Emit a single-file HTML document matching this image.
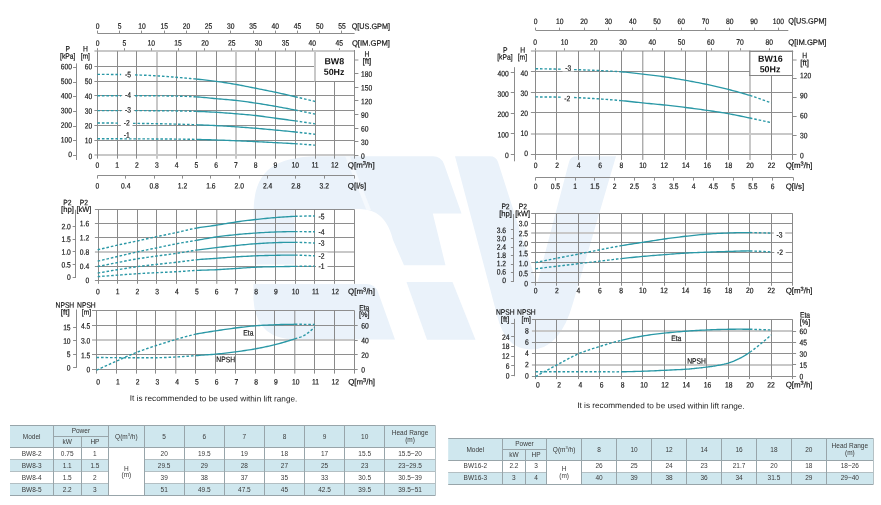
<!DOCTYPE html>
<html><head><meta charset="utf-8"><title>BW8 / BW16 performance curves</title>
<style>
html,body{margin:0;padding:0;background:#fff;}
body{width:881px;height:505px;overflow:hidden;font-family:"Liberation Sans", sans-serif;}
svg{display:block;font-family:"Liberation Sans", sans-serif;}
text{font-family:"Liberation Sans", sans-serif;}
</style></head><body>
<svg width="881" height="505" viewBox="0 0 881 505">
<defs><filter id="gs" x="0" y="0" width="881" height="505" filterUnits="userSpaceOnUse" color-interpolation-filters="sRGB"><feColorMatrix type="saturate" values="0"/></filter></defs>
<rect width="881" height="505" fill="#fff"/>
<g fill="#eaf2fa">
<path d="M318,156.2 L433,156.2 Q441,156.2 444,164 L461.5,213.5 L432.8,213.5 L445.5,265.3 L404,265.3 L393,240 Q388,220 376,213 Q370,209.5 360,209 L294.6,209 L294.6,264.6 L254.6,264.6 L253.6,212 C254,172 272,157 318,156.2 Z"/>
<path d="M253.5,284 L366,284 Q375,284 378,292 L395,339.6 L296,339.6 Q256,339.6 253.5,300 Z"/>
<path d="M406.5,282 L452.5,282 L475.5,339.8 L427,339.8 Z"/>
<path d="M455,156.2 L490,156.2 Q496,156.2 498,162 L537,284 L569,162 Q570.5,156.2 576,156.2 L616,156.2 L573,303 Q560,349.5 531,349.5 Q505,349.5 497,315 Z"/>
</g>
<path d="M345.2,156.2 L349.8,156.2 L371,210 L366.4,210 Z" fill="#f5f9fd"/>
<line x1="94.4" y1="155" x2="354.6" y2="155" stroke="#c8c8c8" stroke-width="2"/>
<line x1="94.4" y1="51" x2="354.6" y2="51" stroke="#c8c8c8" stroke-width="2"/>
<line x1="157" y1="51.15" x2="157" y2="158.65" stroke="#c8c8c8" stroke-width="2"/>
<line x1="236" y1="51.15" x2="236" y2="158.65" stroke="#c8c8c8" stroke-width="2"/>
<line x1="94.4" y1="140.5" x2="354.6" y2="140.5" stroke="#8e8e8e" stroke-width="1"/>
<line x1="94.4" y1="125.5" x2="354.6" y2="125.5" stroke="#8e8e8e" stroke-width="1"/>
<line x1="94.4" y1="110.5" x2="354.6" y2="110.5" stroke="#8e8e8e" stroke-width="1"/>
<line x1="94.4" y1="95.5" x2="354.6" y2="95.5" stroke="#8e8e8e" stroke-width="1"/>
<line x1="94.4" y1="81.5" x2="354.6" y2="81.5" stroke="#8e8e8e" stroke-width="1"/>
<line x1="94.4" y1="66.5" x2="354.6" y2="66.5" stroke="#8e8e8e" stroke-width="1"/>
<line x1="97.5" y1="51.15" x2="97.5" y2="158.65" stroke="#8a8a8a" stroke-width="1"/>
<line x1="117.5" y1="51.15" x2="117.5" y2="158.65" stroke="#8a8a8a" stroke-width="1"/>
<line x1="136.5" y1="51.15" x2="136.5" y2="158.65" stroke="#8a8a8a" stroke-width="1"/>
<line x1="176.5" y1="51.15" x2="176.5" y2="158.65" stroke="#8a8a8a" stroke-width="1"/>
<line x1="196.5" y1="51.15" x2="196.5" y2="158.65" stroke="#8a8a8a" stroke-width="1"/>
<line x1="216.5" y1="51.15" x2="216.5" y2="158.65" stroke="#8a8a8a" stroke-width="1"/>
<line x1="255.5" y1="51.15" x2="255.5" y2="158.65" stroke="#8a8a8a" stroke-width="1"/>
<line x1="275.5" y1="51.15" x2="275.5" y2="158.65" stroke="#8a8a8a" stroke-width="1"/>
<line x1="295.5" y1="51.15" x2="295.5" y2="158.65" stroke="#8a8a8a" stroke-width="1"/>
<line x1="315.5" y1="51.15" x2="315.5" y2="158.65" stroke="#8a8a8a" stroke-width="1"/>
<line x1="334.5" y1="51.15" x2="334.5" y2="158.65" stroke="#8a8a8a" stroke-width="1"/>
<line x1="354.5" y1="51.15" x2="354.5" y2="158.65" stroke="#8a8a8a" stroke-width="1"/>
<line x1="97.5" y1="48.15" x2="97.5" y2="50.65" stroke="#8c8c8c" stroke-width="1"/>
<line x1="124.5" y1="48.15" x2="124.5" y2="50.65" stroke="#8c8c8c" stroke-width="1"/>
<line x1="151.5" y1="48.15" x2="151.5" y2="50.65" stroke="#8c8c8c" stroke-width="1"/>
<line x1="178.5" y1="48.15" x2="178.5" y2="50.65" stroke="#8c8c8c" stroke-width="1"/>
<line x1="204.5" y1="48.15" x2="204.5" y2="50.65" stroke="#8c8c8c" stroke-width="1"/>
<line x1="231.5" y1="48.15" x2="231.5" y2="50.65" stroke="#8c8c8c" stroke-width="1"/>
<line x1="258.5" y1="48.15" x2="258.5" y2="50.65" stroke="#8c8c8c" stroke-width="1"/>
<line x1="285.5" y1="48.15" x2="285.5" y2="50.65" stroke="#8c8c8c" stroke-width="1"/>
<line x1="312.5" y1="48.15" x2="312.5" y2="50.65" stroke="#8c8c8c" stroke-width="1"/>
<line x1="339.5" y1="48.15" x2="339.5" y2="50.65" stroke="#8c8c8c" stroke-width="1"/>
<line x1="97.4" y1="33.5" x2="354.6" y2="33.5" stroke="#8c8c8c" stroke-width="1"/>
<line x1="97.5" y1="30.6" x2="97.5" y2="33.2" stroke="#8c8c8c" stroke-width="1"/>
<line x1="119.5" y1="30.6" x2="119.5" y2="33.2" stroke="#8c8c8c" stroke-width="1"/>
<line x1="141.5" y1="30.6" x2="141.5" y2="33.2" stroke="#8c8c8c" stroke-width="1"/>
<line x1="164.5" y1="30.6" x2="164.5" y2="33.2" stroke="#8c8c8c" stroke-width="1"/>
<line x1="186.5" y1="30.6" x2="186.5" y2="33.2" stroke="#8c8c8c" stroke-width="1"/>
<line x1="208.5" y1="30.6" x2="208.5" y2="33.2" stroke="#8c8c8c" stroke-width="1"/>
<line x1="230.5" y1="30.6" x2="230.5" y2="33.2" stroke="#8c8c8c" stroke-width="1"/>
<line x1="253.5" y1="30.6" x2="253.5" y2="33.2" stroke="#8c8c8c" stroke-width="1"/>
<line x1="275.5" y1="30.6" x2="275.5" y2="33.2" stroke="#8c8c8c" stroke-width="1"/>
<line x1="297.5" y1="30.6" x2="297.5" y2="33.2" stroke="#8c8c8c" stroke-width="1"/>
<line x1="319.5" y1="30.6" x2="319.5" y2="33.2" stroke="#8c8c8c" stroke-width="1"/>
<line x1="341.5" y1="30.6" x2="341.5" y2="33.2" stroke="#8c8c8c" stroke-width="1"/>
<line x1="97.4" y1="175.5" x2="354.6" y2="175.5" stroke="#8c8c8c" stroke-width="1"/>
<line x1="97.5" y1="175.6" x2="97.5" y2="178.6" stroke="#8c8c8c" stroke-width="1"/>
<line x1="125.5" y1="175.6" x2="125.5" y2="178.6" stroke="#8c8c8c" stroke-width="1"/>
<line x1="154.5" y1="175.6" x2="154.5" y2="178.6" stroke="#8c8c8c" stroke-width="1"/>
<line x1="182.5" y1="175.6" x2="182.5" y2="178.6" stroke="#8c8c8c" stroke-width="1"/>
<line x1="210.5" y1="175.6" x2="210.5" y2="178.6" stroke="#8c8c8c" stroke-width="1"/>
<line x1="239.5" y1="175.6" x2="239.5" y2="178.6" stroke="#8c8c8c" stroke-width="1"/>
<line x1="267.5" y1="175.6" x2="267.5" y2="178.6" stroke="#8c8c8c" stroke-width="1"/>
<line x1="295.5" y1="175.6" x2="295.5" y2="178.6" stroke="#8c8c8c" stroke-width="1"/>
<line x1="324.5" y1="175.6" x2="324.5" y2="178.6" stroke="#8c8c8c" stroke-width="1"/>
<line x1="354.5" y1="175.6" x2="354.5" y2="178.6" stroke="#8c8c8c" stroke-width="1"/>
<line x1="76.5" y1="63.4" x2="76.5" y2="160" stroke="#8c8c8c" stroke-width="1"/>
<line x1="73.05" y1="155.5" x2="76.55" y2="155.5" stroke="#8c8c8c" stroke-width="1"/>
<line x1="73.05" y1="140.5" x2="76.55" y2="140.5" stroke="#8c8c8c" stroke-width="1"/>
<line x1="73.05" y1="126.5" x2="76.55" y2="126.5" stroke="#8c8c8c" stroke-width="1"/>
<line x1="73.05" y1="111.5" x2="76.55" y2="111.5" stroke="#8c8c8c" stroke-width="1"/>
<line x1="73.05" y1="96.5" x2="76.55" y2="96.5" stroke="#8c8c8c" stroke-width="1"/>
<line x1="73.05" y1="82.5" x2="76.55" y2="82.5" stroke="#8c8c8c" stroke-width="1"/>
<line x1="73.05" y1="67.5" x2="76.55" y2="67.5" stroke="#8c8c8c" stroke-width="1"/>
<line x1="354.6" y1="155.5" x2="358.4" y2="155.5" stroke="#8c8c8c" stroke-width="1"/>
<line x1="354.6" y1="141.5" x2="358.4" y2="141.5" stroke="#8c8c8c" stroke-width="1"/>
<line x1="354.6" y1="128.5" x2="358.4" y2="128.5" stroke="#8c8c8c" stroke-width="1"/>
<line x1="354.6" y1="114.5" x2="358.4" y2="114.5" stroke="#8c8c8c" stroke-width="1"/>
<line x1="354.6" y1="100.5" x2="358.4" y2="100.5" stroke="#8c8c8c" stroke-width="1"/>
<line x1="354.6" y1="87.5" x2="358.4" y2="87.5" stroke="#8c8c8c" stroke-width="1"/>
<line x1="354.6" y1="73.5" x2="358.4" y2="73.5" stroke="#8c8c8c" stroke-width="1"/>
<line x1="354.6" y1="60" x2="358.4" y2="60" stroke="#c8c8c8" stroke-width="2"/>
<rect x="122.2" y="70.9" width="11.6" height="7.2" fill="#fff"/>
<rect x="122.2" y="91.2" width="11.6" height="7.2" fill="#fff"/>
<rect x="122.2" y="106" width="11.6" height="7.2" fill="#fff"/>
<rect x="120.9" y="119" width="11.6" height="7.2" fill="#fff"/>
<path d="M97.4,74.35 L98.58,74.36 L100.09,74.36 L101.88,74.37 L103.89,74.38 L106.06,74.4 L108.32,74.41 L110.63,74.43 L112.91,74.45 L115.12,74.47 L117.18,74.5 L119.16,74.53 L121.14,74.56" fill="none" stroke="#2a98a6" stroke-width="1.4" stroke-dasharray="2.6 1.9" stroke-linejoin="round"/>
<path d="M134.99,74.88 L136.97,74.94 L138.95,75.01 L140.93,75.08 L142.9,75.16 L144.88,75.24 L146.86,75.32 L148.84,75.41 L150.82,75.51 L152.8,75.61 L154.78,75.72 L156.75,75.83 L158.73,75.95 L160.71,76.08 L162.69,76.22 L164.67,76.37 L166.65,76.52 L168.62,76.67 L170.6,76.83 L172.58,76.99 L174.56,77.15 L176.54,77.31 L178.52,77.48 L180.5,77.64 L182.47,77.81 L184.45,77.98 L186.43,78.16 L188.41,78.33 L190.39,78.52 L192.37,78.7 L194.34,78.89 L196.32,79.09" fill="none" stroke="#2a98a6" stroke-width="1.4" stroke-dasharray="2.6 1.9" stroke-linejoin="round"/>
<path d="M196.32,79.09 L198.3,79.29 L200.28,79.49 L202.26,79.7 L204.24,79.9 L206.22,80.12 L208.19,80.34 L210.17,80.57 L212.15,80.8 L214.13,81.05 L216.11,81.31 L218.09,81.58 L220.06,81.87 L222.04,82.16 L224.02,82.46 L226,82.77 L227.98,83.08 L229.96,83.41 L231.94,83.74 L233.91,84.08 L235.89,84.42 L237.87,84.78 L239.85,85.15 L241.83,85.52 L243.81,85.91 L245.78,86.3 L247.76,86.69 L249.74,87.09 L251.72,87.49 L253.7,87.88 L255.68,88.28 L257.66,88.67 L259.63,89.06 L261.61,89.45 L263.59,89.85 L265.57,90.24 L267.55,90.64 L269.53,91.04 L271.5,91.45 L273.48,91.86 L275.46,92.28 L277.44,92.7 L279.42,93.13 L281.4,93.57 L283.38,94.01 L285.35,94.45 L287.33,94.9 L289.31,95.35 L291.29,95.81 L293.27,96.26 L295.25,96.72" fill="none" stroke="#2a98a6" stroke-width="1.35" stroke-linejoin="round"/>
<path d="M295.25,96.72 L297.31,97.21 L299.52,97.73 L301.8,98.27 L304.11,98.83 L306.38,99.37 L308.54,99.89 L310.55,100.38 L312.34,100.81 L313.85,101.18 L315.03,101.46" fill="none" stroke="#2a98a6" stroke-width="1.4" stroke-dasharray="2.6 1.9" stroke-linejoin="round"/>
<path d="M97.4,95.69 L98.58,95.69 L100.09,95.69 L101.88,95.69 L103.89,95.69 L106.06,95.69 L108.32,95.69 L110.63,95.69 L112.91,95.69 L115.12,95.69 L117.18,95.69 L119.16,95.68 L121.14,95.68" fill="none" stroke="#2a98a6" stroke-width="1.4" stroke-dasharray="2.6 1.9" stroke-linejoin="round"/>
<path d="M134.99,95.68 L136.97,95.69 L138.95,95.69 L140.93,95.7 L142.9,95.71 L144.88,95.73 L146.86,95.74 L148.84,95.76 L150.82,95.77 L152.8,95.79 L154.78,95.81 L156.75,95.83 L158.73,95.86 L160.71,95.88 L162.69,95.9 L164.67,95.92 L166.65,95.94 L168.62,95.97 L170.6,96 L172.58,96.04 L174.56,96.08 L176.54,96.13 L178.52,96.18 L180.5,96.23 L182.47,96.29 L184.45,96.34 L186.43,96.41 L188.41,96.48 L190.39,96.56 L192.37,96.65 L194.34,96.75 L196.32,96.87" fill="none" stroke="#2a98a6" stroke-width="1.4" stroke-dasharray="2.6 1.9" stroke-linejoin="round"/>
<path d="M196.32,96.87 L198.3,97.01 L200.28,97.16 L202.26,97.33 L204.24,97.51 L206.22,97.7 L208.19,97.89 L210.17,98.08 L212.15,98.28 L214.13,98.47 L216.11,98.65 L218.09,98.82 L220.06,98.99 L222.04,99.15 L224.02,99.32 L226,99.48 L227.98,99.65 L229.96,99.83 L231.94,100.01 L233.91,100.21 L235.89,100.43 L237.87,100.66 L239.85,100.89 L241.83,101.14 L243.81,101.4 L245.78,101.67 L247.76,101.94 L249.74,102.22 L251.72,102.51 L253.7,102.8 L255.68,103.09 L257.66,103.39 L259.63,103.7 L261.61,104.01 L263.59,104.33 L265.57,104.66 L267.55,104.99 L269.53,105.32 L271.5,105.66 L273.48,106.01 L275.46,106.35 L277.44,106.7 L279.42,107.06 L281.4,107.42 L283.38,107.79 L285.35,108.16 L287.33,108.53 L289.31,108.91 L291.29,109.29 L293.27,109.67 L295.25,110.06" fill="none" stroke="#2a98a6" stroke-width="1.35" stroke-linejoin="round"/>
<path d="M295.25,110.06 L297.31,110.46 L299.52,110.9 L301.8,111.36 L304.11,111.83 L306.38,112.29 L308.54,112.73 L310.55,113.14 L312.34,113.51 L313.85,113.82 L315.03,114.06" fill="none" stroke="#2a98a6" stroke-width="1.4" stroke-dasharray="2.6 1.9" stroke-linejoin="round"/>
<path d="M97.4,110.65 L98.58,110.65 L100.09,110.65 L101.88,110.65 L103.89,110.65 L106.06,110.65 L108.32,110.65 L110.63,110.65 L112.91,110.65 L115.12,110.65 L117.18,110.65 L119.16,110.65 L121.14,110.65" fill="none" stroke="#2a98a6" stroke-width="1.4" stroke-dasharray="2.6 1.9" stroke-linejoin="round"/>
<path d="M134.99,110.65 L136.97,110.65 L138.95,110.65 L140.93,110.66 L142.9,110.66 L144.88,110.67 L146.86,110.67 L148.84,110.68 L150.82,110.69 L152.8,110.7 L154.78,110.71 L156.75,110.72 L158.73,110.74 L160.71,110.76 L162.69,110.77 L164.67,110.79 L166.65,110.81 L168.62,110.84 L170.6,110.86 L172.58,110.89 L174.56,110.92 L176.54,110.95 L178.52,110.98 L180.5,111.01 L182.47,111.05 L184.45,111.09 L186.43,111.13 L188.41,111.17 L190.39,111.22 L192.37,111.27 L194.34,111.33 L196.32,111.39" fill="none" stroke="#2a98a6" stroke-width="1.4" stroke-dasharray="2.6 1.9" stroke-linejoin="round"/>
<path d="M196.32,111.39 L198.3,111.46 L200.28,111.53 L202.26,111.61 L204.24,111.69 L206.22,111.77 L208.19,111.86 L210.17,111.96 L212.15,112.06 L214.13,112.17 L216.11,112.28 L218.09,112.4 L220.06,112.53 L222.04,112.67 L224.02,112.82 L226,112.97 L227.98,113.12 L229.96,113.28 L231.94,113.44 L233.91,113.6 L235.89,113.76 L237.87,113.92 L239.85,114.08 L241.83,114.25 L243.81,114.41 L245.78,114.58 L247.76,114.75 L249.74,114.93 L251.72,115.12 L253.7,115.33 L255.68,115.54 L257.66,115.77 L259.63,116.02 L261.61,116.28 L263.59,116.54 L265.57,116.82 L267.55,117.1 L269.53,117.38 L271.5,117.66 L273.48,117.94 L275.46,118.21 L277.44,118.47 L279.42,118.74 L281.4,119 L283.38,119.26 L285.35,119.52 L287.33,119.79 L289.31,120.05 L291.29,120.32 L293.27,120.6 L295.25,120.87" fill="none" stroke="#2a98a6" stroke-width="1.35" stroke-linejoin="round"/>
<path d="M295.25,120.87 L297.31,121.17 L299.52,121.5 L301.8,121.84 L304.11,122.18 L306.38,122.52 L308.54,122.85 L310.55,123.16 L312.34,123.43 L313.85,123.66 L315.03,123.84" fill="none" stroke="#2a98a6" stroke-width="1.4" stroke-dasharray="2.6 1.9" stroke-linejoin="round"/>
<path d="M97.4,122.95 L98.58,122.96 L100.09,122.97 L101.88,122.98 L103.89,122.99 L106.06,123 L108.32,123.02 L110.63,123.04 L112.91,123.06 L115.12,123.08 L117.18,123.1 L119.16,123.12" fill="none" stroke="#2a98a6" stroke-width="1.4" stroke-dasharray="2.6 1.9" stroke-linejoin="round"/>
<path d="M133.01,123.33 L134.99,123.36 L136.97,123.39 L138.95,123.42 L140.93,123.45 L142.9,123.48 L144.88,123.5 L146.86,123.53 L148.84,123.56 L150.82,123.59 L152.8,123.62 L154.78,123.65 L156.75,123.69 L158.73,123.73 L160.71,123.77 L162.69,123.81 L164.67,123.85 L166.65,123.89 L168.62,123.94 L170.6,123.99 L172.58,124.03 L174.56,124.08 L176.54,124.13 L178.52,124.19 L180.5,124.24 L182.47,124.29 L184.45,124.35 L186.43,124.4 L188.41,124.46 L190.39,124.52 L192.37,124.59 L194.34,124.66 L196.32,124.73" fill="none" stroke="#2a98a6" stroke-width="1.4" stroke-dasharray="2.6 1.9" stroke-linejoin="round"/>
<path d="M196.32,124.73 L198.3,124.8 L200.28,124.88 L202.26,124.96 L204.24,125.05 L206.22,125.13 L208.19,125.22 L210.17,125.32 L212.15,125.41 L214.13,125.51 L216.11,125.62 L218.09,125.72 L220.06,125.83 L222.04,125.94 L224.02,126.05 L226,126.17 L227.98,126.29 L229.96,126.41 L231.94,126.54 L233.91,126.67 L235.89,126.8 L237.87,126.94 L239.85,127.07 L241.83,127.21 L243.81,127.36 L245.78,127.51 L247.76,127.65 L249.74,127.81 L251.72,127.96 L253.7,128.12 L255.68,128.28 L257.66,128.45 L259.63,128.62 L261.61,128.79 L263.59,128.97 L265.57,129.14 L267.55,129.32 L269.53,129.51 L271.5,129.69 L273.48,129.88 L275.46,130.06 L277.44,130.25 L279.42,130.43 L281.4,130.62 L283.38,130.81 L285.35,131 L287.33,131.19 L289.31,131.38 L291.29,131.58 L293.27,131.78 L295.25,131.99" fill="none" stroke="#2a98a6" stroke-width="1.35" stroke-linejoin="round"/>
<path d="M295.25,131.99 L297.31,132.21 L299.52,132.45 L301.8,132.7 L304.11,132.96 L306.38,133.22 L308.54,133.47 L310.55,133.7 L312.34,133.9 L313.85,134.08 L315.03,134.21" fill="none" stroke="#2a98a6" stroke-width="1.4" stroke-dasharray="2.6 1.9" stroke-linejoin="round"/>
<path d="M97.4,138.8 L98.58,138.8 L100.09,138.8 L101.88,138.8 L103.89,138.8 L106.06,138.8 L108.32,138.8 L110.63,138.8 L112.91,138.8 L115.12,138.8 L117.18,138.8 L119.16,138.81 L121.14,138.81 L123.12,138.82 L125.1,138.83 L127.08,138.84 L129.06,138.84 L131.03,138.85 L133.01,138.86 L134.99,138.87 L136.97,138.88 L138.95,138.88 L140.93,138.89 L142.9,138.9 L144.88,138.9 L146.86,138.91 L148.84,138.92 L150.82,138.92 L152.8,138.93 L154.78,138.94 L156.75,138.95 L158.73,138.96 L160.71,138.97 L162.69,138.99 L164.67,139 L166.65,139.01 L168.62,139.03 L170.6,139.04 L172.58,139.06 L174.56,139.08 L176.54,139.1 L178.52,139.12 L180.5,139.14 L182.47,139.17 L184.45,139.19 L186.43,139.22 L188.41,139.25 L190.39,139.28 L192.37,139.32 L194.34,139.35 L196.32,139.4" fill="none" stroke="#2a98a6" stroke-width="1.4" stroke-dasharray="2.6 1.9" stroke-linejoin="round"/>
<path d="M196.32,139.4 L198.3,139.44 L200.28,139.49 L202.26,139.55 L204.24,139.6 L206.22,139.66 L208.19,139.73 L210.17,139.79 L212.15,139.86 L214.13,139.92 L216.11,139.99 L218.09,140.06 L220.06,140.12 L222.04,140.2 L224.02,140.27 L226,140.34 L227.98,140.42 L229.96,140.49 L231.94,140.57 L233.91,140.65 L235.89,140.73 L237.87,140.81 L239.85,140.9 L241.83,140.98 L243.81,141.07 L245.78,141.16 L247.76,141.24 L249.74,141.34 L251.72,141.43 L253.7,141.52 L255.68,141.62 L257.66,141.72 L259.63,141.82 L261.61,141.92 L263.59,142.02 L265.57,142.13 L267.55,142.23 L269.53,142.34 L271.5,142.45 L273.48,142.55 L275.46,142.66 L277.44,142.76 L279.42,142.86 L281.4,142.95 L283.38,143.05 L285.35,143.15 L287.33,143.25 L289.31,143.35 L291.29,143.46 L293.27,143.57 L295.25,143.69" fill="none" stroke="#2a98a6" stroke-width="1.35" stroke-linejoin="round"/>
<path d="M295.25,143.69 L297.31,143.83 L299.52,143.98 L301.8,144.15 L304.11,144.32 L306.38,144.5 L308.54,144.67 L310.55,144.82 L312.34,144.97 L313.85,145.08 L315.03,145.17" fill="none" stroke="#2a98a6" stroke-width="1.4" stroke-dasharray="2.6 1.9" stroke-linejoin="round"/>
<rect x="315" y="51" width="39.5" height="30.5" fill="#fff"/>
<line x1="315" y1="50" x2="315" y2="81.5" stroke="#c8c8c8" stroke-width="2"/>
<line x1="315" y1="51" x2="355" y2="51" stroke="#c8c8c8" stroke-width="2"/>
<line x1="315" y1="81.5" x2="355" y2="81.5" stroke="#8a8a8a" stroke-width="1"/>
<line x1="354.5" y1="50" x2="354.5" y2="82" stroke="#8a8a8a" stroke-width="1"/>
<line x1="94.9" y1="252" x2="354.3" y2="252" stroke="#c8c8c8" stroke-width="2"/>
<line x1="94.9" y1="280.5" x2="354.3" y2="280.5" stroke="#8e8e8e" stroke-width="1"/>
<line x1="94.9" y1="266.5" x2="354.3" y2="266.5" stroke="#8e8e8e" stroke-width="1"/>
<line x1="94.9" y1="237.5" x2="354.3" y2="237.5" stroke="#8e8e8e" stroke-width="1"/>
<line x1="94.9" y1="223.5" x2="354.3" y2="223.5" stroke="#8e8e8e" stroke-width="1"/>
<line x1="94.9" y1="209.5" x2="354.3" y2="209.5" stroke="#8e8e8e" stroke-width="1"/>
<line x1="98.5" y1="209.4" x2="98.5" y2="283.8" stroke="#8a8a8a" stroke-width="1"/>
<line x1="117.5" y1="209.4" x2="117.5" y2="283.8" stroke="#8a8a8a" stroke-width="1"/>
<line x1="137.5" y1="209.4" x2="137.5" y2="283.8" stroke="#8a8a8a" stroke-width="1"/>
<line x1="156.5" y1="209.4" x2="156.5" y2="283.8" stroke="#8a8a8a" stroke-width="1"/>
<line x1="176.5" y1="209.4" x2="176.5" y2="283.8" stroke="#8a8a8a" stroke-width="1"/>
<line x1="196.5" y1="209.4" x2="196.5" y2="283.8" stroke="#8a8a8a" stroke-width="1"/>
<line x1="216.8" y1="209.4" x2="216.8" y2="283.8" stroke="#8a8a8a" stroke-width="1"/>
<line x1="235.5" y1="209.4" x2="235.5" y2="283.8" stroke="#8a8a8a" stroke-width="1"/>
<line x1="255.5" y1="209.4" x2="255.5" y2="283.8" stroke="#8a8a8a" stroke-width="1"/>
<line x1="275.5" y1="209.4" x2="275.5" y2="283.8" stroke="#8a8a8a" stroke-width="1"/>
<line x1="295.5" y1="209.4" x2="295.5" y2="283.8" stroke="#8a8a8a" stroke-width="1"/>
<line x1="314.5" y1="209.4" x2="314.5" y2="283.8" stroke="#8a8a8a" stroke-width="1"/>
<line x1="334.5" y1="209.4" x2="334.5" y2="283.8" stroke="#8a8a8a" stroke-width="1"/>
<line x1="354.5" y1="209.4" x2="354.5" y2="283.8" stroke="#8a8a8a" stroke-width="1"/>
<line x1="75.5" y1="209.8" x2="75.5" y2="278" stroke="#8c8c8c" stroke-width="1"/>
<line x1="72.65" y1="277.5" x2="75.85" y2="277.5" stroke="#8c8c8c" stroke-width="1"/>
<line x1="72.65" y1="264.5" x2="75.85" y2="264.5" stroke="#8c8c8c" stroke-width="1"/>
<line x1="72.65" y1="251.5" x2="75.85" y2="251.5" stroke="#8c8c8c" stroke-width="1"/>
<line x1="72.65" y1="239.5" x2="75.85" y2="239.5" stroke="#8c8c8c" stroke-width="1"/>
<line x1="72.65" y1="226.5" x2="75.85" y2="226.5" stroke="#8c8c8c" stroke-width="1"/>
<path d="M97.66,249.78 L98.83,249.51 L100.34,249.15 L102.13,248.72 L104.13,248.24 L106.3,247.73 L108.56,247.2 L110.86,246.66 L113.14,246.13 L115.34,245.62 L117.4,245.16 L119.37,244.72 L121.35,244.3 L123.32,243.88 L125.3,243.47 L127.27,243.06 L129.24,242.65 L131.22,242.24 L133.19,241.83 L135.17,241.41 L137.14,240.99 L139.11,240.56 L141.09,240.12 L143.06,239.68 L145.04,239.24 L147.01,238.8 L148.98,238.35 L150.96,237.91 L152.93,237.47 L154.91,237.04 L156.88,236.61 L158.85,236.19 L160.83,235.78 L162.8,235.37 L164.78,234.97 L166.75,234.57 L168.72,234.17 L170.7,233.76 L172.67,233.36 L174.65,232.94 L176.62,232.52 L178.59,232.08 L180.57,231.63 L182.54,231.16 L184.52,230.69 L186.49,230.22 L188.46,229.75 L190.44,229.3 L192.41,228.86 L194.39,228.45 L196.36,228.07" fill="none" stroke="#2a98a6" stroke-width="1.4" stroke-dasharray="2.6 1.9" stroke-linejoin="round"/>
<path d="M196.36,228.07 L198.33,227.72 L200.31,227.4 L202.28,227.11 L204.26,226.83 L206.23,226.57 L208.2,226.31 L210.18,226.05 L212.15,225.79 L214.13,225.51 L216.1,225.22 L218.07,224.91 L220.05,224.59 L222.02,224.26 L224,223.93 L225.97,223.6 L227.94,223.26 L229.92,222.94 L231.89,222.62 L233.87,222.31 L235.84,222.02 L237.81,221.74 L239.79,221.46 L241.76,221.2 L243.74,220.94 L245.71,220.69 L247.68,220.45 L249.66,220.21 L251.63,219.98 L253.61,219.75 L255.58,219.52 L257.55,219.3 L259.53,219.09 L261.5,218.87 L263.48,218.67 L265.45,218.47 L267.42,218.27 L269.4,218.08 L271.37,217.9 L273.35,217.73 L275.32,217.57 L277.29,217.41 L279.27,217.26 L281.24,217.11 L283.22,216.97 L285.19,216.84 L287.16,216.72 L289.14,216.61 L291.11,216.5 L293.09,216.41 L295.06,216.32" fill="none" stroke="#2a98a6" stroke-width="1.35" stroke-linejoin="round"/>
<path d="M295.06,216.32 L297.12,216.25 L299.32,216.19 L301.6,216.14 L303.9,216.1 L306.16,216.06 L308.33,216.04 L310.33,216.02 L312.12,216 L313.63,215.98 L314.8,215.96" fill="none" stroke="#2a98a6" stroke-width="1.4" stroke-dasharray="2.6 1.9" stroke-linejoin="round"/>
<path d="M97.66,261.18 L98.83,260.9 L100.34,260.55 L102.13,260.13 L104.13,259.66 L106.3,259.15 L108.56,258.62 L110.86,258.08 L113.14,257.55 L115.34,257.03 L117.4,256.55 L119.37,256.08 L121.35,255.61 L123.32,255.14 L125.3,254.67 L127.27,254.2 L129.24,253.73 L131.22,253.27 L133.19,252.81 L135.17,252.36 L137.14,251.92 L139.11,251.49 L141.09,251.07 L143.06,250.65 L145.04,250.24 L147.01,249.84 L148.98,249.44 L150.96,249.04 L152.93,248.64 L154.91,248.23 L156.88,247.83 L158.85,247.41 L160.83,247 L162.8,246.58 L164.78,246.15 L166.75,245.73 L168.72,245.32 L170.7,244.91 L172.67,244.51 L174.65,244.11 L176.62,243.73 L178.59,243.36 L180.57,243.01 L182.54,242.67 L184.52,242.33 L186.49,242 L188.46,241.67 L190.44,241.34 L192.41,241.02 L194.39,240.68 L196.36,240.35" fill="none" stroke="#2a98a6" stroke-width="1.4" stroke-dasharray="2.6 1.9" stroke-linejoin="round"/>
<path d="M196.36,240.35 L198.33,240.01 L200.31,239.66 L202.28,239.3 L204.26,238.95 L206.23,238.59 L208.2,238.24 L210.18,237.9 L212.15,237.58 L214.13,237.26 L216.1,236.97 L218.07,236.69 L220.05,236.43 L222.02,236.17 L224,235.93 L225.97,235.7 L227.94,235.48 L229.92,235.26 L231.89,235.05 L233.87,234.85 L235.84,234.65 L237.81,234.46 L239.79,234.28 L241.76,234.1 L243.74,233.94 L245.71,233.78 L247.68,233.62 L249.66,233.47 L251.63,233.33 L253.61,233.19 L255.58,233.05 L257.55,232.92 L259.53,232.79 L261.5,232.67 L263.48,232.55 L265.45,232.44 L267.42,232.33 L269.4,232.24 L271.37,232.14 L273.35,232.06 L275.32,231.98 L277.29,231.92 L279.27,231.86 L281.24,231.81 L283.22,231.77 L285.19,231.73 L287.16,231.7 L289.14,231.68 L291.11,231.66 L293.09,231.64 L295.06,231.63" fill="none" stroke="#2a98a6" stroke-width="1.35" stroke-linejoin="round"/>
<path d="M295.06,231.63 L297.12,231.62 L299.32,231.63 L301.6,231.64 L303.9,231.66 L306.16,231.68 L308.33,231.7 L310.33,231.72 L312.12,231.74 L313.63,231.76 L314.8,231.77" fill="none" stroke="#2a98a6" stroke-width="1.4" stroke-dasharray="2.6 1.9" stroke-linejoin="round"/>
<path d="M97.66,266.52 L98.83,266.28 L100.34,265.98 L102.13,265.62 L104.13,265.22 L106.3,264.79 L108.56,264.34 L110.86,263.89 L113.14,263.43 L115.34,263 L117.4,262.6 L119.37,262.21 L121.35,261.83 L123.32,261.44 L125.3,261.05 L127.27,260.66 L129.24,260.28 L131.22,259.91 L133.19,259.55 L135.17,259.2 L137.14,258.86 L139.11,258.54 L141.09,258.23 L143.06,257.94 L145.04,257.65 L147.01,257.37 L148.98,257.1 L150.96,256.83 L152.93,256.56 L154.91,256.29 L156.88,256.01 L158.85,255.74 L160.83,255.48 L162.8,255.22 L164.78,254.96 L166.75,254.7 L168.72,254.44 L170.7,254.18 L172.67,253.91 L174.65,253.63 L176.62,253.34 L178.59,253.04 L180.57,252.73 L182.54,252.4 L184.52,252.07 L186.49,251.73 L188.46,251.4 L190.44,251.07 L192.41,250.74 L194.39,250.43 L196.36,250.14" fill="none" stroke="#2a98a6" stroke-width="1.4" stroke-dasharray="2.6 1.9" stroke-linejoin="round"/>
<path d="M196.36,250.14 L198.33,249.86 L200.31,249.59 L202.28,249.33 L204.26,249.07 L206.23,248.83 L208.2,248.58 L210.18,248.35 L212.15,248.11 L214.13,247.88 L216.1,247.65 L218.07,247.42 L220.05,247.19 L222.02,246.97 L224,246.75 L225.97,246.54 L227.94,246.32 L229.92,246.12 L231.89,245.91 L233.87,245.71 L235.84,245.51 L237.81,245.32 L239.79,245.12 L241.76,244.93 L243.74,244.74 L245.71,244.56 L247.68,244.38 L249.66,244.2 L251.63,244.04 L253.61,243.88 L255.58,243.73 L257.55,243.59 L259.53,243.46 L261.5,243.34 L263.48,243.22 L265.45,243.11 L267.42,243.01 L269.4,242.91 L271.37,242.82 L273.35,242.74 L275.32,242.66 L277.29,242.59 L279.27,242.53 L281.24,242.47 L283.22,242.42 L285.19,242.37 L287.16,242.34 L289.14,242.31 L291.11,242.3 L293.09,242.3 L295.06,242.31" fill="none" stroke="#2a98a6" stroke-width="1.35" stroke-linejoin="round"/>
<path d="M295.06,242.31 L297.12,242.34 L299.32,242.39 L301.6,242.47 L303.9,242.55 L306.16,242.64 L308.33,242.74 L310.33,242.83 L312.12,242.91 L313.63,242.97 L314.8,243.02" fill="none" stroke="#2a98a6" stroke-width="1.4" stroke-dasharray="2.6 1.9" stroke-linejoin="round"/>
<path d="M97.66,273.1 L98.83,272.9 L100.34,272.64 L102.13,272.32 L104.13,271.98 L106.3,271.6 L108.56,271.21 L110.86,270.81 L113.14,270.43 L115.34,270.06 L117.4,269.72 L119.37,269.4 L121.35,269.08 L123.32,268.76 L125.3,268.45 L127.27,268.14 L129.24,267.84 L131.22,267.54 L133.19,267.25 L135.17,266.97 L137.14,266.69 L139.11,266.43 L141.09,266.18 L143.06,265.94 L145.04,265.71 L147.01,265.48 L148.98,265.26 L150.96,265.04 L152.93,264.82 L154.91,264.6 L156.88,264.38 L158.85,264.16 L160.83,263.95 L162.8,263.74 L164.78,263.53 L166.75,263.32 L168.72,263.12 L170.7,262.91 L172.67,262.69 L174.65,262.47 L176.62,262.24 L178.59,262 L180.57,261.75 L182.54,261.49 L184.52,261.22 L186.49,260.95 L188.46,260.69 L190.44,260.43 L192.41,260.19 L194.39,259.96 L196.36,259.75" fill="none" stroke="#2a98a6" stroke-width="1.4" stroke-dasharray="2.6 1.9" stroke-linejoin="round"/>
<path d="M196.36,259.75 L198.33,259.57 L200.31,259.4 L202.28,259.25 L204.26,259.11 L206.23,258.97 L208.2,258.85 L210.18,258.72 L212.15,258.6 L214.13,258.47 L216.1,258.33 L218.07,258.18 L220.05,258.04 L222.02,257.89 L224,257.74 L225.97,257.59 L227.94,257.45 L229.92,257.31 L231.89,257.17 L233.87,257.03 L235.84,256.9 L237.81,256.78 L239.79,256.66 L241.76,256.54 L243.74,256.43 L245.71,256.31 L247.68,256.21 L249.66,256.11 L251.63,256.01 L253.61,255.92 L255.58,255.84 L257.55,255.76 L259.53,255.69 L261.5,255.63 L263.48,255.57 L265.45,255.51 L267.42,255.46 L269.4,255.42 L271.37,255.38 L273.35,255.34 L275.32,255.3 L277.29,255.27 L279.27,255.23 L281.24,255.19 L283.22,255.16 L285.19,255.14 L287.16,255.11 L289.14,255.1 L291.11,255.1 L293.09,255.1 L295.06,255.12" fill="none" stroke="#2a98a6" stroke-width="1.35" stroke-linejoin="round"/>
<path d="M295.06,255.12 L297.12,255.16 L299.32,255.22 L301.6,255.29 L303.9,255.38 L306.16,255.47 L308.33,255.56 L310.33,255.65 L312.12,255.72 L313.63,255.79 L314.8,255.84" fill="none" stroke="#2a98a6" stroke-width="1.4" stroke-dasharray="2.6 1.9" stroke-linejoin="round"/>
<path d="M97.66,276.66 L98.83,276.57 L100.34,276.46 L102.13,276.32 L104.13,276.17 L106.3,276.01 L108.56,275.83 L110.86,275.66 L113.14,275.49 L115.34,275.32 L117.4,275.17 L119.37,275.02 L121.35,274.87 L123.32,274.71 L125.3,274.56 L127.27,274.41 L129.24,274.26 L131.22,274.11 L133.19,273.97 L135.17,273.84 L137.14,273.71 L139.11,273.59 L141.09,273.47 L143.06,273.36 L145.04,273.26 L147.01,273.16 L148.98,273.06 L150.96,272.97 L152.93,272.87 L154.91,272.77 L156.88,272.67 L158.85,272.58 L160.83,272.48 L162.8,272.39 L164.78,272.3 L166.75,272.21 L168.72,272.12 L170.7,272.02 L172.67,271.93 L174.65,271.82 L176.62,271.71 L178.59,271.6 L180.57,271.47 L182.54,271.33 L184.52,271.2 L186.49,271.06 L188.46,270.92 L190.44,270.78 L192.41,270.66 L194.39,270.54 L196.36,270.43" fill="none" stroke="#2a98a6" stroke-width="1.4" stroke-dasharray="2.6 1.9" stroke-linejoin="round"/>
<path d="M196.36,270.43 L198.33,270.34 L200.31,270.26 L202.28,270.19 L204.26,270.13 L206.23,270.07 L208.2,270.02 L210.18,269.95 L212.15,269.89 L214.13,269.81 L216.1,269.72 L218.07,269.62 L220.05,269.5 L222.02,269.39 L224,269.26 L225.97,269.13 L227.94,269 L229.92,268.86 L231.89,268.73 L233.87,268.6 L235.84,268.47 L237.81,268.35 L239.79,268.21 L241.76,268.08 L243.74,267.94 L245.71,267.81 L247.68,267.68 L249.66,267.55 L251.63,267.43 L253.61,267.32 L255.58,267.23 L257.55,267.14 L259.53,267.07 L261.5,267.01 L263.48,266.95 L265.45,266.9 L267.42,266.86 L269.4,266.82 L271.37,266.78 L273.35,266.74 L275.32,266.69 L277.29,266.65 L279.27,266.61 L281.24,266.58 L283.22,266.55 L285.19,266.51 L287.16,266.48 L289.14,266.46 L291.11,266.43 L293.09,266.4 L295.06,266.37" fill="none" stroke="#2a98a6" stroke-width="1.35" stroke-linejoin="round"/>
<path d="M295.06,266.37 L297.12,266.35 L299.32,266.32 L301.6,266.29 L303.9,266.27 L306.16,266.25 L308.33,266.22 L310.33,266.21 L312.12,266.19 L313.63,266.17 L314.8,266.16" fill="none" stroke="#2a98a6" stroke-width="1.4" stroke-dasharray="2.6 1.9" stroke-linejoin="round"/>
<rect x="316" y="213.1" width="11.5" height="6.8" fill="#fff"/>
<rect x="316" y="228.4" width="11.5" height="6.8" fill="#fff"/>
<rect x="316" y="239.6" width="11.5" height="6.8" fill="#fff"/>
<rect x="316" y="252.5" width="11.5" height="6.8" fill="#fff"/>
<rect x="316" y="262.7" width="11.5" height="6.8" fill="#fff"/>
<line x1="92" y1="340" x2="354.3" y2="340" stroke="#c8c8c8" stroke-width="2"/>
<line x1="92" y1="369.5" x2="354.3" y2="369.5" stroke="#8e8e8e" stroke-width="1"/>
<line x1="92" y1="354.5" x2="354.3" y2="354.5" stroke="#8e8e8e" stroke-width="1"/>
<line x1="92" y1="325.5" x2="354.3" y2="325.5" stroke="#8e8e8e" stroke-width="1"/>
<line x1="92" y1="310.5" x2="354.3" y2="310.5" stroke="#8e8e8e" stroke-width="1"/>
<line x1="96.5" y1="310.45" x2="96.5" y2="373.6" stroke="#8a8a8a" stroke-width="1"/>
<line x1="116.5" y1="310.45" x2="116.5" y2="373.6" stroke="#8a8a8a" stroke-width="1"/>
<line x1="136.5" y1="310.45" x2="136.5" y2="373.6" stroke="#8a8a8a" stroke-width="1"/>
<line x1="155.5" y1="310.45" x2="155.5" y2="373.6" stroke="#8a8a8a" stroke-width="1"/>
<line x1="175.8" y1="310.45" x2="175.8" y2="373.6" stroke="#8a8a8a" stroke-width="1"/>
<line x1="195.5" y1="310.45" x2="195.5" y2="373.6" stroke="#8a8a8a" stroke-width="1"/>
<line x1="215.5" y1="310.45" x2="215.5" y2="373.6" stroke="#8a8a8a" stroke-width="1"/>
<line x1="235.5" y1="310.45" x2="235.5" y2="373.6" stroke="#8a8a8a" stroke-width="1"/>
<line x1="255.5" y1="310.45" x2="255.5" y2="373.6" stroke="#8a8a8a" stroke-width="1"/>
<line x1="274.5" y1="310.45" x2="274.5" y2="373.6" stroke="#8a8a8a" stroke-width="1"/>
<line x1="294.8" y1="310.45" x2="294.8" y2="373.6" stroke="#8a8a8a" stroke-width="1"/>
<line x1="314.5" y1="310.45" x2="314.5" y2="373.6" stroke="#8a8a8a" stroke-width="1"/>
<line x1="334.5" y1="310.45" x2="334.5" y2="373.6" stroke="#8a8a8a" stroke-width="1"/>
<line x1="354.5" y1="310.45" x2="354.5" y2="373.6" stroke="#8a8a8a" stroke-width="1"/>
<line x1="76.5" y1="309.5" x2="76.5" y2="367.9" stroke="#8c8c8c" stroke-width="1"/>
<line x1="73.1" y1="367.5" x2="76.4" y2="367.5" stroke="#8c8c8c" stroke-width="1"/>
<line x1="73.1" y1="354.5" x2="76.4" y2="354.5" stroke="#8c8c8c" stroke-width="1"/>
<line x1="73.1" y1="340.5" x2="76.4" y2="340.5" stroke="#8c8c8c" stroke-width="1"/>
<line x1="73.1" y1="327.5" x2="76.4" y2="327.5" stroke="#8c8c8c" stroke-width="1"/>
<line x1="354.3" y1="369.5" x2="357.7" y2="369.5" stroke="#8c8c8c" stroke-width="1"/>
<line x1="354.3" y1="354.5" x2="357.7" y2="354.5" stroke="#8c8c8c" stroke-width="1"/>
<line x1="354.3" y1="340.5" x2="357.7" y2="340.5" stroke="#8c8c8c" stroke-width="1"/>
<line x1="354.3" y1="325.5" x2="357.7" y2="325.5" stroke="#8c8c8c" stroke-width="1"/>
<path d="M96.5,370.13 L97.68,369.6 L99.2,368.91 L100.99,368.1 L103,367.18 L105.18,366.2 L107.45,365.17 L109.76,364.13 L112.05,363.1 L114.26,362.11 L116.33,361.18 L118.31,360.3 L120.3,359.41 L122.28,358.51 L124.26,357.62 L126.25,356.73 L128.23,355.85 L130.21,354.99 L132.19,354.14 L134.18,353.32 L136.16,352.53 L138.14,351.77 L140.13,351.03 L142.11,350.31 L144.09,349.61 L146.07,348.93 L148.06,348.26 L150.04,347.59 L152.02,346.94 L154.01,346.29 L155.99,345.63 L157.97,344.98 L159.96,344.34 L161.94,343.7 L163.92,343.07 L165.91,342.45 L167.89,341.84 L169.87,341.23 L171.85,340.64 L173.84,340.05 L175.82,339.47 L177.8,338.9 L179.79,338.33 L181.77,337.76 L183.75,337.2 L185.73,336.65 L187.72,336.12 L189.7,335.6 L191.68,335.11 L193.67,334.64 L195.65,334.19" fill="none" stroke="#2a98a6" stroke-width="1.4" stroke-dasharray="2.6 1.9" stroke-linejoin="round"/>
<path d="M195.65,334.19 L197.63,333.78 L199.62,333.4 L201.6,333.04 L203.58,332.71 L205.56,332.39 L207.55,332.08 L209.53,331.79 L211.51,331.49 L213.5,331.19 L215.48,330.89 L217.46,330.58 L219.45,330.28 L221.43,329.98 L223.41,329.68 L225.39,329.39 L227.38,329.11 L229.36,328.83 L231.34,328.55 L233.33,328.29 L235.31,328.03 L237.29,327.78 L239.28,327.53 L241.26,327.29 L243.24,327.05 L245.22,326.82 L247.21,326.6 L249.19,326.39 L251.17,326.19 L253.16,326 L255.14,325.83 L257.12,325.67 L259.11,325.53 L261.09,325.4 L263.07,325.28 L265.05,325.17 L267.04,325.07 L269.02,324.98 L271,324.89 L272.99,324.81 L274.97,324.73 L276.95,324.66 L278.94,324.59 L280.92,324.53 L282.9,324.47 L284.88,324.43 L286.87,324.39 L288.85,324.35 L290.83,324.32 L292.82,324.3 L294.8,324.29" fill="none" stroke="#2a98a6" stroke-width="1.35" stroke-linejoin="round"/>
<path d="M294.8,324.29 L296.87,324.29 L299.08,324.3 L301.37,324.31 L303.68,324.34 L305.95,324.37 L308.13,324.41 L310.14,324.44 L311.93,324.47 L313.45,324.49 L314.63,324.51" fill="none" stroke="#2a98a6" stroke-width="1.4" stroke-dasharray="2.6 1.9" stroke-linejoin="round"/>
<path d="M96.5,357.47 L97.68,357.48 L99.2,357.5 L100.99,357.52 L103,357.54 L105.18,357.56 L107.45,357.58 L109.76,357.61 L112.05,357.63 L114.26,357.65 L116.33,357.66 L118.31,357.68 L120.3,357.69 L122.28,357.7 L124.26,357.71 L126.25,357.73 L128.23,357.73 L130.21,357.74 L132.19,357.75 L134.18,357.76 L136.16,357.76 L138.14,357.77 L140.13,357.78 L142.11,357.79 L144.09,357.81 L146.07,357.82 L148.06,357.82 L150.04,357.82 L152.02,357.81 L154.01,357.79 L155.99,357.76 L157.97,357.72 L159.96,357.66 L161.94,357.6 L163.92,357.53 L165.91,357.46 L167.89,357.37 L169.87,357.28 L171.85,357.19 L173.84,357.08 L175.82,356.98 L177.8,356.87 L179.79,356.74 L181.77,356.61 L183.75,356.48 L185.73,356.34 L187.72,356.19 L189.7,356.05 L191.68,355.9 L193.67,355.75 L195.65,355.61" fill="none" stroke="#2a98a6" stroke-width="1.4" stroke-dasharray="2.6 1.9" stroke-linejoin="round"/>
<path d="M195.65,355.61 L197.63,355.47 L199.62,355.34 L201.6,355.2 L203.58,355.07 L205.56,354.93 L207.55,354.79 L209.53,354.64 L211.51,354.49 L213.5,354.32 L215.48,354.14 L217.46,353.95 L219.45,353.76 L221.43,353.55 L223.41,353.34 L225.39,353.12 L227.38,352.89 L229.36,352.65 L231.34,352.41 L233.33,352.15 L235.31,351.89 L237.29,351.63 L239.28,351.36 L241.26,351.08 L243.24,350.79 L245.22,350.5 L247.21,350.2 L249.19,349.88 L251.17,349.56 L253.16,349.22 L255.14,348.86 L257.12,348.5 L259.11,348.12 L261.09,347.74 L263.07,347.34 L265.05,346.93 L267.04,346.51 L269.02,346.07 L271,345.62 L272.99,345.15 L274.97,344.66 L277,344.13 L279.09,343.57 L281.23,342.98 L283.38,342.36 L285.5,341.74 L287.58,341.12 L289.58,340.52 L291.47,339.93 L293.22,339.39 L294.8,338.89" fill="none" stroke="#2a98a6" stroke-width="1.35" stroke-linejoin="round"/>
<path d="M294.8,338.89 L296.19,338.45 L297.42,338.08 L298.5,337.75 L299.48,337.45 L300.38,337.16 L301.22,336.85 L302.05,336.52 L302.89,336.14 L303.77,335.7 L304.71,335.17 L305.75,334.52 L306.86,333.74 L308,332.88 L309.16,331.96 L310.29,331.03 L311.38,330.11 L312.38,329.25 L313.28,328.48 L314.04,327.83 L314.63,327.35" fill="none" stroke="#2a98a6" stroke-width="1.4" stroke-dasharray="2.6 1.9" stroke-linejoin="round"/>
<line x1="530.9" y1="134" x2="792.7" y2="134" stroke="#c8c8c8" stroke-width="2"/>
<line x1="530.9" y1="51" x2="792.7" y2="51" stroke="#c8c8c8" stroke-width="2"/>
<line x1="750" y1="51" x2="750" y2="159.9" stroke="#c8c8c8" stroke-width="2"/>
<line x1="530.9" y1="154.5" x2="792.7" y2="154.5" stroke="#8e8e8e" stroke-width="1"/>
<line x1="530.9" y1="112.5" x2="792.7" y2="112.5" stroke="#8e8e8e" stroke-width="1"/>
<line x1="530.9" y1="92.5" x2="792.7" y2="92.5" stroke="#8e8e8e" stroke-width="1"/>
<line x1="530.9" y1="71.5" x2="792.7" y2="71.5" stroke="#8e8e8e" stroke-width="1"/>
<line x1="535.5" y1="51" x2="535.5" y2="159.9" stroke="#8a8a8a" stroke-width="1"/>
<line x1="556.5" y1="51" x2="556.5" y2="159.9" stroke="#8a8a8a" stroke-width="1"/>
<line x1="578.5" y1="51" x2="578.5" y2="159.9" stroke="#8a8a8a" stroke-width="1"/>
<line x1="599.5" y1="51" x2="599.5" y2="159.9" stroke="#8a8a8a" stroke-width="1"/>
<line x1="621.5" y1="51" x2="621.5" y2="159.9" stroke="#8a8a8a" stroke-width="1"/>
<line x1="642.8" y1="51" x2="642.8" y2="159.9" stroke="#8a8a8a" stroke-width="1"/>
<line x1="664.5" y1="51" x2="664.5" y2="159.9" stroke="#8a8a8a" stroke-width="1"/>
<line x1="685.5" y1="51" x2="685.5" y2="159.9" stroke="#8a8a8a" stroke-width="1"/>
<line x1="706.5" y1="51" x2="706.5" y2="159.9" stroke="#8a8a8a" stroke-width="1"/>
<line x1="728.5" y1="51" x2="728.5" y2="159.9" stroke="#8a8a8a" stroke-width="1"/>
<line x1="771.5" y1="51" x2="771.5" y2="159.9" stroke="#8a8a8a" stroke-width="1"/>
<line x1="792.5" y1="51" x2="792.5" y2="159.9" stroke="#8a8a8a" stroke-width="1"/>
<line x1="535.5" y1="48.2" x2="535.5" y2="50.5" stroke="#8c8c8c" stroke-width="1"/>
<line x1="564.5" y1="48.2" x2="564.5" y2="50.5" stroke="#8c8c8c" stroke-width="1"/>
<line x1="594.5" y1="48.2" x2="594.5" y2="50.5" stroke="#8c8c8c" stroke-width="1"/>
<line x1="623.5" y1="48.2" x2="623.5" y2="50.5" stroke="#8c8c8c" stroke-width="1"/>
<line x1="652.5" y1="48.2" x2="652.5" y2="50.5" stroke="#8c8c8c" stroke-width="1"/>
<line x1="681.5" y1="48.2" x2="681.5" y2="50.5" stroke="#8c8c8c" stroke-width="1"/>
<line x1="711.5" y1="48.2" x2="711.5" y2="50.5" stroke="#8c8c8c" stroke-width="1"/>
<line x1="740.5" y1="48.2" x2="740.5" y2="50.5" stroke="#8c8c8c" stroke-width="1"/>
<line x1="769.5" y1="48.2" x2="769.5" y2="50.5" stroke="#8c8c8c" stroke-width="1"/>
<line x1="535.5" y1="30.5" x2="788.3" y2="30.5" stroke="#8c8c8c" stroke-width="1"/>
<line x1="535.5" y1="27.6" x2="535.5" y2="30" stroke="#8c8c8c" stroke-width="1"/>
<line x1="559.5" y1="27.6" x2="559.5" y2="30" stroke="#8c8c8c" stroke-width="1"/>
<line x1="584.5" y1="27.6" x2="584.5" y2="30" stroke="#8c8c8c" stroke-width="1"/>
<line x1="608.5" y1="27.6" x2="608.5" y2="30" stroke="#8c8c8c" stroke-width="1"/>
<line x1="632.5" y1="27.6" x2="632.5" y2="30" stroke="#8c8c8c" stroke-width="1"/>
<line x1="656.5" y1="27.6" x2="656.5" y2="30" stroke="#8c8c8c" stroke-width="1"/>
<line x1="681.5" y1="27.6" x2="681.5" y2="30" stroke="#8c8c8c" stroke-width="1"/>
<line x1="705.5" y1="27.6" x2="705.5" y2="30" stroke="#8c8c8c" stroke-width="1"/>
<line x1="729.5" y1="27.6" x2="729.5" y2="30" stroke="#8c8c8c" stroke-width="1"/>
<line x1="754.5" y1="27.6" x2="754.5" y2="30" stroke="#8c8c8c" stroke-width="1"/>
<line x1="778.5" y1="27.6" x2="778.5" y2="30" stroke="#8c8c8c" stroke-width="1"/>
<line x1="535.5" y1="177.5" x2="793.4" y2="177.5" stroke="#8c8c8c" stroke-width="1"/>
<line x1="535.5" y1="177.6" x2="535.5" y2="180.6" stroke="#8c8c8c" stroke-width="1"/>
<line x1="555.5" y1="177.6" x2="555.5" y2="180.6" stroke="#8c8c8c" stroke-width="1"/>
<line x1="575.5" y1="177.6" x2="575.5" y2="180.6" stroke="#8c8c8c" stroke-width="1"/>
<line x1="594.5" y1="177.6" x2="594.5" y2="180.6" stroke="#8c8c8c" stroke-width="1"/>
<line x1="614.5" y1="177.6" x2="614.5" y2="180.6" stroke="#8c8c8c" stroke-width="1"/>
<line x1="634.5" y1="177.6" x2="634.5" y2="180.6" stroke="#8c8c8c" stroke-width="1"/>
<line x1="654.5" y1="177.6" x2="654.5" y2="180.6" stroke="#8c8c8c" stroke-width="1"/>
<line x1="673.5" y1="177.6" x2="673.5" y2="180.6" stroke="#8c8c8c" stroke-width="1"/>
<line x1="693.5" y1="177.6" x2="693.5" y2="180.6" stroke="#8c8c8c" stroke-width="1"/>
<line x1="713.5" y1="177.6" x2="713.5" y2="180.6" stroke="#8c8c8c" stroke-width="1"/>
<line x1="733.5" y1="177.6" x2="733.5" y2="180.6" stroke="#8c8c8c" stroke-width="1"/>
<line x1="752.5" y1="177.6" x2="752.5" y2="180.6" stroke="#8c8c8c" stroke-width="1"/>
<line x1="772.5" y1="177.6" x2="772.5" y2="180.6" stroke="#8c8c8c" stroke-width="1"/>
<line x1="793.5" y1="177.6" x2="793.5" y2="180.6" stroke="#8c8c8c" stroke-width="1"/>
<line x1="514.5" y1="67.2" x2="514.5" y2="161.3" stroke="#8c8c8c" stroke-width="1"/>
<line x1="510.8" y1="154.5" x2="514.4" y2="154.5" stroke="#8c8c8c" stroke-width="1"/>
<line x1="510.8" y1="133.5" x2="514.4" y2="133.5" stroke="#8c8c8c" stroke-width="1"/>
<line x1="510.8" y1="113.5" x2="514.4" y2="113.5" stroke="#8c8c8c" stroke-width="1"/>
<line x1="510.8" y1="92.5" x2="514.4" y2="92.5" stroke="#8c8c8c" stroke-width="1"/>
<line x1="510.8" y1="72.5" x2="514.4" y2="72.5" stroke="#8c8c8c" stroke-width="1"/>
<line x1="792.7" y1="154.5" x2="796.6" y2="154.5" stroke="#8c8c8c" stroke-width="1"/>
<line x1="792.7" y1="135.5" x2="796.6" y2="135.5" stroke="#8c8c8c" stroke-width="1"/>
<line x1="792.7" y1="116.5" x2="796.6" y2="116.5" stroke="#8c8c8c" stroke-width="1"/>
<line x1="792.7" y1="97.5" x2="796.6" y2="97.5" stroke="#8c8c8c" stroke-width="1"/>
<line x1="792.7" y1="78.5" x2="796.6" y2="78.5" stroke="#8c8c8c" stroke-width="1"/>
<line x1="792.7" y1="60" x2="796.6" y2="60" stroke="#c8c8c8" stroke-width="2"/>
<rect x="562.5" y="64.2" width="11.5" height="7.2" fill="#fff"/>
<path d="M535.5,68.71 L536.78,68.73 L538.41,68.76 L540.35,68.79 L542.53,68.83 L544.88,68.87 L547.33,68.92 L549.83,68.97 L552.3,69.02 L554.69,69.07 L556.93,69.12 L559.08,69.17 L561.22,69.23" fill="none" stroke="#2a98a6" stroke-width="1.4" stroke-dasharray="2.6 1.9" stroke-linejoin="round"/>
<path d="M574.08,69.6 L576.22,69.67 L578.37,69.74 L580.51,69.81 L582.65,69.89 L584.8,69.96 L586.94,70.04 L589.08,70.12 L591.23,70.2 L593.37,70.29 L595.51,70.38 L597.66,70.47 L599.8,70.57 L601.94,70.67 L604.09,70.78 L606.23,70.88 L608.37,70.99 L610.52,71.1 L612.66,71.22 L614.8,71.35 L616.95,71.49 L619.09,71.65 L621.23,71.81" fill="none" stroke="#2a98a6" stroke-width="1.4" stroke-dasharray="2.6 1.9" stroke-linejoin="round"/>
<path d="M621.23,71.81 L623.38,72 L625.52,72.2 L627.66,72.41 L629.81,72.63 L631.95,72.86 L634.09,73.1 L636.24,73.35 L638.38,73.6 L640.52,73.84 L642.67,74.09 L644.81,74.34 L646.95,74.59 L649.1,74.85 L651.24,75.1 L653.38,75.36 L655.53,75.63 L657.67,75.91 L659.81,76.19 L661.96,76.48 L664.1,76.79 L666.24,77.1 L668.39,77.43 L670.53,77.76 L672.67,78.11 L674.82,78.46 L676.96,78.82 L679.1,79.18 L681.25,79.55 L683.39,79.93 L685.53,80.31 L687.68,80.7 L689.82,81.09 L691.96,81.48 L694.11,81.89 L696.25,82.29 L698.39,82.71 L700.54,83.13 L702.68,83.56 L704.82,84.01 L706.97,84.46 L709.11,84.92 L711.25,85.38 L713.4,85.86 L715.54,86.34 L717.68,86.83 L719.83,87.33 L721.97,87.84 L724.11,88.36 L726.26,88.89 L728.4,89.43 L730.54,89.98 L732.69,90.54 L734.83,91.11 L736.97,91.69 L739.12,92.28 L741.26,92.88 L743.4,93.5 L745.55,94.13 L747.69,94.78 L749.83,95.44" fill="none" stroke="#2a98a6" stroke-width="1.35" stroke-linejoin="round"/>
<path d="M749.83,95.44 L752.07,96.16 L754.46,96.96 L756.94,97.81 L759.44,98.68 L761.89,99.55 L764.24,100.39 L766.41,101.17 L768.35,101.86 L769.99,102.45 L771.27,102.9" fill="none" stroke="#2a98a6" stroke-width="1.4" stroke-dasharray="2.6 1.9" stroke-linejoin="round"/>
<path d="M535.5,96.89 L536.78,96.9 L538.41,96.91 L540.35,96.93 L542.53,96.94 L544.88,96.96 L547.33,96.98 L549.83,97 L552.3,97.03 L554.69,97.06 L556.93,97.1 L559.08,97.14 L561.22,97.19" fill="none" stroke="#2a98a6" stroke-width="1.4" stroke-dasharray="2.6 1.9" stroke-linejoin="round"/>
<path d="M574.08,97.55 L576.22,97.63 L578.37,97.72 L580.51,97.82 L582.65,97.92 L584.8,98.04 L586.94,98.15 L589.08,98.28 L591.23,98.41 L593.37,98.54 L595.51,98.68 L597.66,98.82 L599.8,98.96 L601.94,99.11 L604.09,99.26 L606.23,99.41 L608.37,99.57 L610.52,99.73 L612.66,99.89 L614.8,100.07 L616.95,100.24 L619.09,100.43 L621.23,100.62" fill="none" stroke="#2a98a6" stroke-width="1.4" stroke-dasharray="2.6 1.9" stroke-linejoin="round"/>
<path d="M621.23,100.62 L623.38,100.83 L625.52,101.04 L627.66,101.27 L629.81,101.5 L631.95,101.74 L634.09,101.98 L636.24,102.21 L638.38,102.45 L640.52,102.68 L642.67,102.9 L644.81,103.12 L646.95,103.32 L649.1,103.53 L651.24,103.73 L653.38,103.93 L655.53,104.13 L657.67,104.33 L659.81,104.54 L661.96,104.75 L664.1,104.97 L666.24,105.2 L668.39,105.44 L670.53,105.68 L672.67,105.92 L674.82,106.17 L676.96,106.42 L679.1,106.67 L681.25,106.93 L683.39,107.19 L685.53,107.46 L687.68,107.73 L689.82,108.01 L691.96,108.29 L694.11,108.57 L696.25,108.86 L698.39,109.15 L700.54,109.45 L702.68,109.75 L704.82,110.05 L706.97,110.36 L709.11,110.67 L711.25,110.98 L713.4,111.29 L715.54,111.61 L717.68,111.93 L719.83,112.26 L721.97,112.59 L724.11,112.94 L726.26,113.3 L728.4,113.68 L730.54,114.07 L732.69,114.48 L734.83,114.9 L736.97,115.34 L739.12,115.78 L741.26,116.23 L743.4,116.68 L745.55,117.13 L747.69,117.58 L749.83,118.03" fill="none" stroke="#2a98a6" stroke-width="1.35" stroke-linejoin="round"/>
<path d="M749.83,118.03 L752.07,118.5 L754.46,119 L756.94,119.53 L759.44,120.06 L761.89,120.58 L764.24,121.09 L766.41,121.55 L768.35,121.97 L769.99,122.32 L771.27,122.59" fill="none" stroke="#2a98a6" stroke-width="1.4" stroke-dasharray="2.6 1.9" stroke-linejoin="round"/>
<rect x="750" y="51" width="42.5" height="24.5" fill="#fff"/>
<line x1="749.85" y1="50.5" x2="749.85" y2="75.9" stroke="#8c8c8c" stroke-width="1.2"/>
<line x1="749.3" y1="51.5" x2="793.2" y2="51.5" stroke="#8a8a8a" stroke-width="1"/>
<line x1="749.3" y1="75.5" x2="793.2" y2="75.5" stroke="#858585" stroke-width="1"/>
<line x1="792.5" y1="50.5" x2="792.5" y2="76" stroke="#8a8a8a" stroke-width="1"/>
<line x1="531.2" y1="233" x2="792.7" y2="233" stroke="#c8c8c8" stroke-width="2"/>
<line x1="531.2" y1="282.5" x2="792.7" y2="282.5" stroke="#8e8e8e" stroke-width="1"/>
<line x1="531.2" y1="272.5" x2="792.7" y2="272.5" stroke="#8e8e8e" stroke-width="1"/>
<line x1="531.2" y1="262.5" x2="792.7" y2="262.5" stroke="#8e8e8e" stroke-width="1"/>
<line x1="531.2" y1="252.5" x2="792.7" y2="252.5" stroke="#8e8e8e" stroke-width="1"/>
<line x1="531.2" y1="242.5" x2="792.7" y2="242.5" stroke="#8e8e8e" stroke-width="1"/>
<line x1="531.2" y1="223.5" x2="792.7" y2="223.5" stroke="#8e8e8e" stroke-width="1"/>
<line x1="531.2" y1="213.5" x2="792.7" y2="213.5" stroke="#8e8e8e" stroke-width="1"/>
<line x1="535.5" y1="213.3" x2="535.5" y2="285.76" stroke="#8a8a8a" stroke-width="1"/>
<line x1="556.5" y1="213.3" x2="556.5" y2="285.76" stroke="#8a8a8a" stroke-width="1"/>
<line x1="578.5" y1="213.3" x2="578.5" y2="285.76" stroke="#8a8a8a" stroke-width="1"/>
<line x1="599.5" y1="213.3" x2="599.5" y2="285.76" stroke="#8a8a8a" stroke-width="1"/>
<line x1="621.5" y1="213.3" x2="621.5" y2="285.76" stroke="#8a8a8a" stroke-width="1"/>
<line x1="642.5" y1="213.3" x2="642.5" y2="285.76" stroke="#8a8a8a" stroke-width="1"/>
<line x1="664.5" y1="213.3" x2="664.5" y2="285.76" stroke="#8a8a8a" stroke-width="1"/>
<line x1="685.5" y1="213.3" x2="685.5" y2="285.76" stroke="#8a8a8a" stroke-width="1"/>
<line x1="706.5" y1="213.3" x2="706.5" y2="285.76" stroke="#8a8a8a" stroke-width="1"/>
<line x1="728.5" y1="213.3" x2="728.5" y2="285.76" stroke="#8a8a8a" stroke-width="1"/>
<line x1="749.5" y1="213.3" x2="749.5" y2="285.76" stroke="#8a8a8a" stroke-width="1"/>
<line x1="771.5" y1="213.3" x2="771.5" y2="285.76" stroke="#8a8a8a" stroke-width="1"/>
<line x1="792.5" y1="213.3" x2="792.5" y2="285.76" stroke="#8a8a8a" stroke-width="1"/>
<line x1="513.5" y1="214" x2="513.5" y2="281.9" stroke="#8c8c8c" stroke-width="1"/>
<line x1="510.9" y1="281.5" x2="513.9" y2="281.5" stroke="#8c8c8c" stroke-width="1"/>
<line x1="510.9" y1="272.5" x2="513.9" y2="272.5" stroke="#8c8c8c" stroke-width="1"/>
<line x1="510.9" y1="264.5" x2="513.9" y2="264.5" stroke="#8c8c8c" stroke-width="1"/>
<line x1="510.9" y1="255.5" x2="513.9" y2="255.5" stroke="#8c8c8c" stroke-width="1"/>
<line x1="510.9" y1="247.5" x2="513.9" y2="247.5" stroke="#8c8c8c" stroke-width="1"/>
<line x1="510.9" y1="238.5" x2="513.9" y2="238.5" stroke="#8c8c8c" stroke-width="1"/>
<line x1="510.9" y1="229.5" x2="513.9" y2="229.5" stroke="#8c8c8c" stroke-width="1"/>
<path d="M535.5,262.5 L536.78,262.24 L538.41,261.91 L540.35,261.52 L542.53,261.08 L544.88,260.61 L547.33,260.11 L549.83,259.61 L552.3,259.11 L554.69,258.64 L556.93,258.2 L559.08,257.78 L561.22,257.37 L563.36,256.96 L565.51,256.55 L567.65,256.14 L569.79,255.74 L571.94,255.33 L574.08,254.92 L576.22,254.51 L578.37,254.09 L580.51,253.67 L582.65,253.24 L584.8,252.81 L586.94,252.37 L589.08,251.94 L591.23,251.5 L593.37,251.07 L595.51,250.64 L597.66,250.21 L599.8,249.79 L601.94,249.36 L604.09,248.94 L606.23,248.51 L608.37,248.09 L610.52,247.67 L612.66,247.26 L614.8,246.85 L616.95,246.45 L619.09,246.06 L621.23,245.68" fill="none" stroke="#2a98a6" stroke-width="1.4" stroke-dasharray="2.6 1.9" stroke-linejoin="round"/>
<path d="M621.23,245.68 L623.38,245.31 L625.52,244.96 L627.66,244.62 L629.81,244.29 L631.95,243.97 L634.09,243.65 L636.24,243.33 L638.38,243.01 L640.52,242.68 L642.67,242.35 L644.81,242.02 L646.95,241.68 L649.1,241.34 L651.24,240.99 L653.38,240.65 L655.53,240.32 L657.67,239.98 L659.81,239.66 L661.96,239.34 L664.1,239.03 L666.24,238.73 L668.39,238.43 L670.53,238.14 L672.67,237.86 L674.82,237.59 L676.96,237.31 L679.1,237.05 L681.25,236.79 L683.39,236.54 L685.53,236.29 L687.68,236.05 L689.82,235.81 L691.96,235.57 L694.11,235.34 L696.25,235.12 L698.39,234.9 L700.54,234.69 L702.68,234.5 L704.82,234.31 L706.97,234.14 L709.11,233.98 L711.25,233.83 L713.4,233.69 L715.54,233.56 L717.68,233.44 L719.83,233.33 L721.97,233.23 L724.11,233.13 L726.26,233.05 L728.4,232.96 L730.54,232.89 L732.69,232.82 L734.83,232.76 L736.97,232.7 L739.12,232.66 L741.26,232.62 L743.4,232.59 L745.55,232.58 L747.69,232.57 L749.83,232.57" fill="none" stroke="#2a98a6" stroke-width="1.35" stroke-linejoin="round"/>
<path d="M749.83,232.57 L752.07,232.59 L754.46,232.64 L756.94,232.7 L759.44,232.77 L761.89,232.84 L764.24,232.92 L766.41,233 L768.35,233.06 L769.99,233.12 L771.27,233.16" fill="none" stroke="#2a98a6" stroke-width="1.4" stroke-dasharray="2.6 1.9" stroke-linejoin="round"/>
<path d="M535.5,268.76 L536.78,268.61 L538.41,268.41 L540.35,268.18 L542.53,267.93 L544.88,267.65 L547.33,267.36 L549.83,267.06 L552.3,266.77 L554.69,266.48 L556.93,266.22 L559.08,265.96 L561.22,265.71 L563.36,265.45 L565.51,265.2 L567.65,264.95 L569.79,264.69 L571.94,264.44 L574.08,264.18 L576.22,263.93 L578.37,263.67 L580.51,263.42 L582.65,263.17 L584.8,262.91 L586.94,262.66 L589.08,262.4 L591.23,262.15 L593.37,261.89 L595.51,261.64 L597.66,261.39 L599.8,261.13 L601.94,260.87 L604.09,260.62 L606.23,260.36 L608.37,260.09 L610.52,259.83 L612.66,259.58 L614.8,259.32 L616.95,259.07 L619.09,258.83 L621.23,258.59" fill="none" stroke="#2a98a6" stroke-width="1.4" stroke-dasharray="2.6 1.9" stroke-linejoin="round"/>
<path d="M621.23,258.59 L623.38,258.36 L625.52,258.13 L627.66,257.9 L629.81,257.68 L631.95,257.46 L634.09,257.25 L636.24,257.04 L638.38,256.84 L640.52,256.63 L642.67,256.44 L644.81,256.24 L646.95,256.06 L649.1,255.87 L651.24,255.69 L653.38,255.52 L655.53,255.35 L657.67,255.18 L659.81,255.01 L661.96,254.84 L664.1,254.68 L666.24,254.51 L668.39,254.34 L670.53,254.17 L672.67,254.01 L674.82,253.84 L676.96,253.69 L679.1,253.53 L681.25,253.38 L683.39,253.24 L685.53,253.11 L687.68,252.99 L689.82,252.87 L691.96,252.77 L694.11,252.66 L696.25,252.57 L698.39,252.48 L700.54,252.39 L702.68,252.3 L704.82,252.22 L706.97,252.13 L709.11,252.05 L711.25,251.97 L713.4,251.9 L715.54,251.83 L717.68,251.76 L719.83,251.69 L721.97,251.63 L724.11,251.57 L726.26,251.51 L728.4,251.45 L730.54,251.39 L732.69,251.31 L734.83,251.24 L736.97,251.17 L739.12,251.1 L741.26,251.04 L743.4,250.99 L745.55,250.96 L747.69,250.95 L749.83,250.96" fill="none" stroke="#2a98a6" stroke-width="1.35" stroke-linejoin="round"/>
<path d="M749.83,250.96 L752.07,251 L754.46,251.08 L756.94,251.18 L759.44,251.29 L761.89,251.42 L764.24,251.55 L766.41,251.67 L768.35,251.78 L769.99,251.87 L771.27,251.94" fill="none" stroke="#2a98a6" stroke-width="1.4" stroke-dasharray="2.6 1.9" stroke-linejoin="round"/>
<rect x="773.8" y="231.3" width="11.4" height="6.8" fill="#fff"/>
<rect x="774.3" y="248.7" width="11.4" height="6.8" fill="#fff"/>
<line x1="531.9" y1="365" x2="792.7" y2="365" stroke="#c8c8c8" stroke-width="2"/>
<line x1="531.9" y1="331" x2="792.7" y2="331" stroke="#c8c8c8" stroke-width="2"/>
<line x1="531.9" y1="376.5" x2="792.7" y2="376.5" stroke="#8e8e8e" stroke-width="1"/>
<line x1="531.9" y1="353.5" x2="792.7" y2="353.5" stroke="#8e8e8e" stroke-width="1"/>
<line x1="531.9" y1="342.5" x2="792.7" y2="342.5" stroke="#8e8e8e" stroke-width="1"/>
<line x1="531.9" y1="319.5" x2="792.7" y2="319.5" stroke="#8e8e8e" stroke-width="1"/>
<line x1="535.5" y1="319.4" x2="535.5" y2="379.1" stroke="#8a8a8a" stroke-width="1"/>
<line x1="556.5" y1="319.4" x2="556.5" y2="379.1" stroke="#8a8a8a" stroke-width="1"/>
<line x1="578.5" y1="319.4" x2="578.5" y2="379.1" stroke="#8a8a8a" stroke-width="1"/>
<line x1="599.5" y1="319.4" x2="599.5" y2="379.1" stroke="#8a8a8a" stroke-width="1"/>
<line x1="621.5" y1="319.4" x2="621.5" y2="379.1" stroke="#8a8a8a" stroke-width="1"/>
<line x1="642.5" y1="319.4" x2="642.5" y2="379.1" stroke="#8a8a8a" stroke-width="1"/>
<line x1="664.5" y1="319.4" x2="664.5" y2="379.1" stroke="#8a8a8a" stroke-width="1"/>
<line x1="685.5" y1="319.4" x2="685.5" y2="379.1" stroke="#8a8a8a" stroke-width="1"/>
<line x1="706.5" y1="319.4" x2="706.5" y2="379.1" stroke="#8a8a8a" stroke-width="1"/>
<line x1="728.5" y1="319.4" x2="728.5" y2="379.1" stroke="#8a8a8a" stroke-width="1"/>
<line x1="749.5" y1="319.4" x2="749.5" y2="379.1" stroke="#8a8a8a" stroke-width="1"/>
<line x1="771.5" y1="319.4" x2="771.5" y2="379.1" stroke="#8a8a8a" stroke-width="1"/>
<line x1="792.5" y1="319.4" x2="792.5" y2="379.1" stroke="#8a8a8a" stroke-width="1"/>
<line x1="514.5" y1="318.8" x2="514.5" y2="376.2" stroke="#8c8c8c" stroke-width="1"/>
<line x1="511.2" y1="375.5" x2="514.8" y2="375.5" stroke="#8c8c8c" stroke-width="1"/>
<line x1="511.2" y1="365.5" x2="514.8" y2="365.5" stroke="#8c8c8c" stroke-width="1"/>
<line x1="511.2" y1="356.5" x2="514.8" y2="356.5" stroke="#8c8c8c" stroke-width="1"/>
<line x1="511.2" y1="346.5" x2="514.8" y2="346.5" stroke="#8c8c8c" stroke-width="1"/>
<line x1="511.2" y1="336.5" x2="514.8" y2="336.5" stroke="#8c8c8c" stroke-width="1"/>
<line x1="511.2" y1="323.5" x2="514.8" y2="323.5" stroke="#8c8c8c" stroke-width="1"/>
<line x1="792.7" y1="376.5" x2="796.1" y2="376.5" stroke="#8c8c8c" stroke-width="1"/>
<line x1="792.7" y1="364.5" x2="796.1" y2="364.5" stroke="#8c8c8c" stroke-width="1"/>
<line x1="792.7" y1="353.5" x2="796.1" y2="353.5" stroke="#8c8c8c" stroke-width="1"/>
<line x1="792.7" y1="342.5" x2="796.1" y2="342.5" stroke="#8c8c8c" stroke-width="1"/>
<line x1="792.7" y1="331.5" x2="796.1" y2="331.5" stroke="#8c8c8c" stroke-width="1"/>
<path d="M535.5,376.58 L536.78,375.88 L538.41,374.98 L540.35,373.91 L542.53,372.72 L544.88,371.43 L547.33,370.09 L549.83,368.73 L552.3,367.38 L554.69,366.1 L556.93,364.9 L559.08,363.75 L561.22,362.59 L563.36,361.42 L565.51,360.25 L567.65,359.09 L569.79,357.96 L571.94,356.86 L574.08,355.79 L576.22,354.78 L578.37,353.83 L580.51,352.93 L582.65,352.09 L584.8,351.3 L586.94,350.55 L589.08,349.82 L591.23,349.13 L593.37,348.45 L595.51,347.78 L597.66,347.11 L599.8,346.44 L601.94,345.77 L604.09,345.11 L606.23,344.46 L608.37,343.83 L610.52,343.2 L612.66,342.6 L614.8,342 L616.95,341.43 L619.09,340.88 L621.23,340.34" fill="none" stroke="#2a98a6" stroke-width="1.4" stroke-dasharray="2.6 1.9" stroke-linejoin="round"/>
<path d="M621.23,340.34 L623.38,339.83 L625.52,339.33 L627.66,338.85 L629.81,338.39 L631.95,337.95 L634.09,337.52 L636.24,337.11 L638.38,336.72 L640.52,336.34 L642.67,335.97 L644.81,335.63 L646.95,335.3 L649.1,334.99 L651.24,334.7 L653.38,334.43 L655.53,334.16 L657.67,333.91 L659.81,333.66 L661.96,333.42 L664.1,333.18 L666.24,332.95 L668.39,332.73 L670.53,332.51 L672.67,332.31 L674.82,332.11 L676.96,331.92 L679.1,331.74 L681.25,331.56 L683.39,331.39 L685.53,331.23 L687.68,331.07 L689.82,330.92 L691.96,330.77 L694.11,330.64 L696.25,330.51 L698.39,330.38 L700.54,330.26 L702.68,330.15 L704.82,330.05 L706.97,329.95 L709.11,329.85 L711.25,329.76 L713.4,329.68 L715.54,329.6 L717.68,329.53 L719.83,329.46 L721.97,329.4 L724.11,329.35 L726.26,329.3 L728.4,329.27 L730.54,329.24 L732.69,329.21 L734.83,329.2 L736.97,329.19 L739.12,329.18 L741.26,329.19 L743.4,329.2 L745.55,329.21 L747.69,329.24 L749.83,329.27" fill="none" stroke="#2a98a6" stroke-width="1.35" stroke-linejoin="round"/>
<path d="M749.83,329.27 L752.07,329.31 L754.46,329.37 L756.94,329.44 L759.44,329.52 L761.89,329.61 L764.24,329.69 L766.41,329.77 L768.35,329.84 L769.99,329.9 L771.27,329.95" fill="none" stroke="#2a98a6" stroke-width="1.4" stroke-dasharray="2.6 1.9" stroke-linejoin="round"/>
<path d="M535.5,371.79 L536.78,371.79 L538.41,371.79 L540.35,371.79 L542.53,371.79 L544.88,371.79 L547.33,371.79 L549.83,371.79 L552.3,371.79 L554.69,371.79 L556.93,371.79 L559.08,371.79 L561.22,371.79 L563.36,371.79 L565.51,371.79 L567.65,371.79 L569.79,371.79 L571.94,371.79 L574.08,371.79 L576.22,371.79 L578.37,371.79 L580.51,371.79 L582.65,371.79 L584.8,371.79 L586.94,371.79 L589.08,371.79 L591.23,371.79 L593.37,371.79 L595.51,371.79 L597.66,371.79 L599.8,371.79 L601.94,371.8 L604.09,371.8 L606.23,371.81 L608.37,371.82 L610.52,371.83 L612.66,371.83 L614.8,371.83 L616.95,371.83 L619.09,371.82 L621.23,371.79" fill="none" stroke="#2a98a6" stroke-width="1.4" stroke-dasharray="2.6 1.9" stroke-linejoin="round"/>
<path d="M621.23,371.79 L623.38,371.76 L625.52,371.72 L627.66,371.68 L629.81,371.62 L631.95,371.57 L634.09,371.51 L636.24,371.44 L638.38,371.37 L640.52,371.3 L642.67,371.23 L644.81,371.15 L646.95,371.07 L649.1,370.99 L651.24,370.9 L653.38,370.81 L655.53,370.71 L657.67,370.62 L659.81,370.52 L661.96,370.42 L664.1,370.32 L666.29,370.22 L668.56,370.12 L670.87,370.01 L673.19,369.9 L675.49,369.79 L677.73,369.68 L679.89,369.57 L681.93,369.46 L683.82,369.35 L685.53,369.25 L687.04,369.15 L688.36,369.06 L689.54,368.96 L690.59,368.87 L691.56,368.78 L692.48,368.69 L693.37,368.6 L694.28,368.5 L695.23,368.4 L696.25,368.29 L697.32,368.18 L698.39,368.06 L699.47,367.95 L700.54,367.83 L701.61,367.71 L702.68,367.58 L703.75,367.45 L704.82,367.32 L705.89,367.19 L706.97,367.05 L708.04,366.91 L709.11,366.77 L710.18,366.62 L711.25,366.48 L712.33,366.33 L713.4,366.18 L714.47,366.01 L715.54,365.84 L716.61,365.66 L717.68,365.46 L718.76,365.27 L719.83,365.06 L720.9,364.86 L721.97,364.65 L723.04,364.42 L724.11,364.19 L725.19,363.93 L726.26,363.66 L727.33,363.36 L728.4,363.04 L729.47,362.69 L730.54,362.32 L731.62,361.94 L732.69,361.53 L733.76,361.11 L734.83,360.66 L735.9,360.2 L736.97,359.72 L738.05,359.21 L739.12,358.69 L740.19,358.14 L741.26,357.57 L742.33,356.98 L743.4,356.37 L744.48,355.74 L745.55,355.09 L746.62,354.42 L747.69,353.73 L748.76,353.03 L749.83,352.3" fill="none" stroke="#2a98a6" stroke-width="1.35" stroke-linejoin="round"/>
<path d="M749.83,352.3 L750.91,351.55 L751.98,350.77 L753.05,349.97 L754.12,349.15 L755.19,348.31 L756.26,347.46 L757.34,346.6 L758.41,345.73 L759.48,344.86 L760.55,344 L761.67,343.08 L762.86,342.09 L764.1,341.05 L765.35,340 L766.58,338.96 L767.75,337.96 L768.84,337.03 L769.81,336.2 L770.63,335.5 L771.27,334.95" fill="none" stroke="#2a98a6" stroke-width="1.4" stroke-dasharray="2.6 1.9" stroke-linejoin="round"/>
<rect x="10" y="425.5" width="425.3" height="22" fill="#cfe7ee"/>
<rect x="10" y="459.6" width="425.3" height="12.2" fill="#cfe7ee"/>
<rect x="10" y="483.8" width="425.3" height="11.9" fill="#cfe7ee"/>
<rect x="108.6" y="447.5" width="35.5" height="48.2" fill="#fff"/>
<line x1="10" y1="425.5" x2="435.3" y2="425.5" stroke="#98a5aa" stroke-width="1"/>
<line x1="10" y1="447.5" x2="435.3" y2="447.5" stroke="#98a5aa" stroke-width="1"/>
<line x1="10" y1="495.5" x2="435.3" y2="495.5" stroke="#98a5aa" stroke-width="1"/>
<line x1="53.2" y1="436.5" x2="108.6" y2="436.5" stroke="#98a5aa" stroke-width="1"/>
<line x1="10" y1="459.5" x2="108.6" y2="459.5" stroke="#b3bfc3" stroke-width="1"/>
<line x1="144.1" y1="459.5" x2="435.3" y2="459.5" stroke="#b3bfc3" stroke-width="1"/>
<line x1="10" y1="471.5" x2="108.6" y2="471.5" stroke="#b3bfc3" stroke-width="1"/>
<line x1="144.1" y1="471.5" x2="435.3" y2="471.5" stroke="#b3bfc3" stroke-width="1"/>
<line x1="10" y1="483.5" x2="108.6" y2="483.5" stroke="#b3bfc3" stroke-width="1"/>
<line x1="144.1" y1="483.5" x2="435.3" y2="483.5" stroke="#b3bfc3" stroke-width="1"/>
<line x1="53.5" y1="425.5" x2="53.5" y2="495.7" stroke="#98a5aa" stroke-width="1"/>
<line x1="81.5" y1="436.5" x2="81.5" y2="495.7" stroke="#98a5aa" stroke-width="1"/>
<line x1="108.5" y1="425.5" x2="108.5" y2="495.7" stroke="#98a5aa" stroke-width="1"/>
<line x1="144.5" y1="425.5" x2="144.5" y2="495.7" stroke="#98a5aa" stroke-width="1"/>
<line x1="184.5" y1="425.5" x2="184.5" y2="495.7" stroke="#98a5aa" stroke-width="1"/>
<line x1="224.5" y1="425.5" x2="224.5" y2="495.7" stroke="#98a5aa" stroke-width="1"/>
<line x1="264.5" y1="425.5" x2="264.5" y2="495.7" stroke="#98a5aa" stroke-width="1"/>
<line x1="304.5" y1="425.5" x2="304.5" y2="495.7" stroke="#98a5aa" stroke-width="1"/>
<line x1="344.5" y1="425.5" x2="344.5" y2="495.7" stroke="#98a5aa" stroke-width="1"/>
<line x1="384.5" y1="425.5" x2="384.5" y2="495.7" stroke="#98a5aa" stroke-width="1"/>
<line x1="435.5" y1="425.5" x2="435.5" y2="495.7" stroke="#b5c1c5" stroke-width="1"/>
<rect x="448.2" y="438.7" width="425.3" height="21.3" fill="#cfe7ee"/>
<rect x="448.2" y="472" width="425.3" height="12.2" fill="#cfe7ee"/>
<rect x="546.6" y="460" width="35" height="24.2" fill="#fff"/>
<line x1="448.2" y1="438.5" x2="873.5" y2="438.5" stroke="#98a5aa" stroke-width="1"/>
<line x1="448.2" y1="460.5" x2="873.5" y2="460.5" stroke="#98a5aa" stroke-width="1"/>
<line x1="448.2" y1="484.5" x2="873.5" y2="484.5" stroke="#98a5aa" stroke-width="1"/>
<line x1="502.4" y1="449.5" x2="546.6" y2="449.5" stroke="#98a5aa" stroke-width="1"/>
<line x1="448.2" y1="472.5" x2="546.6" y2="472.5" stroke="#b3bfc3" stroke-width="1"/>
<line x1="581.6" y1="472.5" x2="873.5" y2="472.5" stroke="#b3bfc3" stroke-width="1"/>
<line x1="502.5" y1="438.7" x2="502.5" y2="484.2" stroke="#98a5aa" stroke-width="1"/>
<line x1="525.5" y1="449.2" x2="525.5" y2="484.2" stroke="#98a5aa" stroke-width="1"/>
<line x1="546.5" y1="438.7" x2="546.5" y2="484.2" stroke="#98a5aa" stroke-width="1"/>
<line x1="581.5" y1="438.7" x2="581.5" y2="484.2" stroke="#98a5aa" stroke-width="1"/>
<line x1="616.5" y1="438.7" x2="616.5" y2="484.2" stroke="#98a5aa" stroke-width="1"/>
<line x1="651.5" y1="438.7" x2="651.5" y2="484.2" stroke="#98a5aa" stroke-width="1"/>
<line x1="686.5" y1="438.7" x2="686.5" y2="484.2" stroke="#98a5aa" stroke-width="1"/>
<line x1="721.5" y1="438.7" x2="721.5" y2="484.2" stroke="#98a5aa" stroke-width="1"/>
<line x1="756.5" y1="438.7" x2="756.5" y2="484.2" stroke="#98a5aa" stroke-width="1"/>
<line x1="791.5" y1="438.7" x2="791.5" y2="484.2" stroke="#98a5aa" stroke-width="1"/>
<line x1="826.5" y1="438.7" x2="826.5" y2="484.2" stroke="#98a5aa" stroke-width="1"/>
<line x1="873.5" y1="438.7" x2="873.5" y2="484.2" stroke="#b5c1c5" stroke-width="1"/>
<g filter="url(#gs)">
<text transform="translate(97.5,45.64) rotate(0.25) scale(0.85,1)" font-size="7.9" text-anchor="middle" fill="#161616" stroke="#161616" stroke-width="0.2">0</text>
<text transform="translate(124.35,45.64) rotate(0.25) scale(0.85,1)" font-size="7.9" text-anchor="middle" fill="#161616" stroke="#161616" stroke-width="0.2">5</text>
<text transform="translate(151.2,45.64) rotate(0.25) scale(0.85,1)" font-size="7.9" text-anchor="middle" fill="#161616" stroke="#161616" stroke-width="0.2">10</text>
<text transform="translate(178.05,45.64) rotate(0.25) scale(0.85,1)" font-size="7.9" text-anchor="middle" fill="#161616" stroke="#161616" stroke-width="0.2">15</text>
<text transform="translate(204.9,45.64) rotate(0.25) scale(0.85,1)" font-size="7.9" text-anchor="middle" fill="#161616" stroke="#161616" stroke-width="0.2">20</text>
<text transform="translate(231.75,45.64) rotate(0.25) scale(0.85,1)" font-size="7.9" text-anchor="middle" fill="#161616" stroke="#161616" stroke-width="0.2">25</text>
<text transform="translate(258.6,45.64) rotate(0.25) scale(0.85,1)" font-size="7.9" text-anchor="middle" fill="#161616" stroke="#161616" stroke-width="0.2">30</text>
<text transform="translate(285.45,45.64) rotate(0.25) scale(0.85,1)" font-size="7.9" text-anchor="middle" fill="#161616" stroke="#161616" stroke-width="0.2">35</text>
<text transform="translate(312.3,45.64) rotate(0.25) scale(0.85,1)" font-size="7.9" text-anchor="middle" fill="#161616" stroke="#161616" stroke-width="0.2">40</text>
<text transform="translate(339.15,45.64) rotate(0.25) scale(0.85,1)" font-size="7.9" text-anchor="middle" fill="#161616" stroke="#161616" stroke-width="0.2">45</text>
<text transform="translate(351.9,45.64) rotate(0.25) scale(0.965,1)" font-size="7.9" text-anchor="start" fill="#161616" stroke="#161616" stroke-width="0.2">Q[IM.GPM]</text>
<text transform="translate(97.5,28.84) rotate(0.25) scale(0.85,1)" font-size="7.9" text-anchor="middle" fill="#161616" stroke="#161616" stroke-width="0.2">0</text>
<text transform="translate(119.72,28.84) rotate(0.25) scale(0.85,1)" font-size="7.9" text-anchor="middle" fill="#161616" stroke="#161616" stroke-width="0.2">5</text>
<text transform="translate(141.94,28.84) rotate(0.25) scale(0.85,1)" font-size="7.9" text-anchor="middle" fill="#161616" stroke="#161616" stroke-width="0.2">10</text>
<text transform="translate(164.16,28.84) rotate(0.25) scale(0.85,1)" font-size="7.9" text-anchor="middle" fill="#161616" stroke="#161616" stroke-width="0.2">15</text>
<text transform="translate(186.38,28.84) rotate(0.25) scale(0.85,1)" font-size="7.9" text-anchor="middle" fill="#161616" stroke="#161616" stroke-width="0.2">20</text>
<text transform="translate(208.6,28.84) rotate(0.25) scale(0.85,1)" font-size="7.9" text-anchor="middle" fill="#161616" stroke="#161616" stroke-width="0.2">25</text>
<text transform="translate(230.82,28.84) rotate(0.25) scale(0.85,1)" font-size="7.9" text-anchor="middle" fill="#161616" stroke="#161616" stroke-width="0.2">30</text>
<text transform="translate(253.04,28.84) rotate(0.25) scale(0.85,1)" font-size="7.9" text-anchor="middle" fill="#161616" stroke="#161616" stroke-width="0.2">35</text>
<text transform="translate(275.26,28.84) rotate(0.25) scale(0.85,1)" font-size="7.9" text-anchor="middle" fill="#161616" stroke="#161616" stroke-width="0.2">40</text>
<text transform="translate(297.48,28.84) rotate(0.25) scale(0.85,1)" font-size="7.9" text-anchor="middle" fill="#161616" stroke="#161616" stroke-width="0.2">45</text>
<text transform="translate(319.7,28.84) rotate(0.25) scale(0.85,1)" font-size="7.9" text-anchor="middle" fill="#161616" stroke="#161616" stroke-width="0.2">50</text>
<text transform="translate(341.92,28.84) rotate(0.25) scale(0.85,1)" font-size="7.9" text-anchor="middle" fill="#161616" stroke="#161616" stroke-width="0.2">55</text>
<text transform="translate(351.7,28.84) rotate(0.25) scale(0.92,1)" font-size="7.9" text-anchor="start" fill="#161616" stroke="#161616" stroke-width="0.2">Q[US.GPM]</text>
<text transform="translate(97.4,167.64) rotate(0.25) scale(0.85,1)" font-size="7.9" text-anchor="middle" fill="#161616" stroke="#161616" stroke-width="0.2">0</text>
<text transform="translate(117.18,167.64) rotate(0.25) scale(0.85,1)" font-size="7.9" text-anchor="middle" fill="#161616" stroke="#161616" stroke-width="0.2">1</text>
<text transform="translate(136.97,167.64) rotate(0.25) scale(0.85,1)" font-size="7.9" text-anchor="middle" fill="#161616" stroke="#161616" stroke-width="0.2">2</text>
<text transform="translate(156.75,167.64) rotate(0.25) scale(0.85,1)" font-size="7.9" text-anchor="middle" fill="#161616" stroke="#161616" stroke-width="0.2">3</text>
<text transform="translate(176.54,167.64) rotate(0.25) scale(0.85,1)" font-size="7.9" text-anchor="middle" fill="#161616" stroke="#161616" stroke-width="0.2">4</text>
<text transform="translate(196.32,167.64) rotate(0.25) scale(0.85,1)" font-size="7.9" text-anchor="middle" fill="#161616" stroke="#161616" stroke-width="0.2">5</text>
<text transform="translate(216.11,167.64) rotate(0.25) scale(0.85,1)" font-size="7.9" text-anchor="middle" fill="#161616" stroke="#161616" stroke-width="0.2">6</text>
<text transform="translate(235.89,167.64) rotate(0.25) scale(0.85,1)" font-size="7.9" text-anchor="middle" fill="#161616" stroke="#161616" stroke-width="0.2">7</text>
<text transform="translate(255.68,167.64) rotate(0.25) scale(0.85,1)" font-size="7.9" text-anchor="middle" fill="#161616" stroke="#161616" stroke-width="0.2">8</text>
<text transform="translate(275.46,167.64) rotate(0.25) scale(0.85,1)" font-size="7.9" text-anchor="middle" fill="#161616" stroke="#161616" stroke-width="0.2">9</text>
<text transform="translate(295.25,167.64) rotate(0.25) scale(0.85,1)" font-size="7.9" text-anchor="middle" fill="#161616" stroke="#161616" stroke-width="0.2">10</text>
<text transform="translate(315.03,167.64) rotate(0.25) scale(0.85,1)" font-size="7.9" text-anchor="middle" fill="#161616" stroke="#161616" stroke-width="0.2">11</text>
<text transform="translate(334.82,167.64) rotate(0.25) scale(0.85,1)" font-size="7.9" text-anchor="middle" fill="#161616" stroke="#161616" stroke-width="0.2">12</text>
<text transform="translate(347.8,167.64) rotate(0.25) scale(1.0,1)" font-size="7.9" text-anchor="start" fill="#161616" stroke="#161616" stroke-width="0.2">Q[m<tspan font-size="5.6" dy="-2.6">3</tspan><tspan dy="2.6">/h]</tspan></text>
<text transform="translate(97.4,188.44) rotate(0.25) scale(0.85,1)" font-size="7.9" text-anchor="middle" fill="#161616" stroke="#161616" stroke-width="0.2">0</text>
<text transform="translate(125.76,188.44) rotate(0.25) scale(0.85,1)" font-size="7.9" text-anchor="middle" fill="#161616" stroke="#161616" stroke-width="0.2">0.4</text>
<text transform="translate(154.12,188.44) rotate(0.25) scale(0.85,1)" font-size="7.9" text-anchor="middle" fill="#161616" stroke="#161616" stroke-width="0.2">0.8</text>
<text transform="translate(182.48,188.44) rotate(0.25) scale(0.85,1)" font-size="7.9" text-anchor="middle" fill="#161616" stroke="#161616" stroke-width="0.2">1.2</text>
<text transform="translate(210.84,188.44) rotate(0.25) scale(0.85,1)" font-size="7.9" text-anchor="middle" fill="#161616" stroke="#161616" stroke-width="0.2">1.6</text>
<text transform="translate(239.2,188.44) rotate(0.25) scale(0.85,1)" font-size="7.9" text-anchor="middle" fill="#161616" stroke="#161616" stroke-width="0.2">2.0</text>
<text transform="translate(267.56,188.44) rotate(0.25) scale(0.85,1)" font-size="7.9" text-anchor="middle" fill="#161616" stroke="#161616" stroke-width="0.2">2.4</text>
<text transform="translate(295.92,188.44) rotate(0.25) scale(0.85,1)" font-size="7.9" text-anchor="middle" fill="#161616" stroke="#161616" stroke-width="0.2">2.8</text>
<text transform="translate(324.28,188.44) rotate(0.25) scale(0.85,1)" font-size="7.9" text-anchor="middle" fill="#161616" stroke="#161616" stroke-width="0.2">3.2</text>
<text transform="translate(347.8,188.44) rotate(0.25) scale(1.0,1)" font-size="7.9" text-anchor="start" fill="#161616" stroke="#161616" stroke-width="0.2">Q[l/s]</text>
<text transform="translate(92.2,158.99) rotate(0.25) scale(0.85,1)" font-size="7.9" text-anchor="end" fill="#161616" stroke="#161616" stroke-width="0.2">0</text>
<text transform="translate(92.2,143.38) rotate(0.25) scale(0.85,1)" font-size="7.9" text-anchor="end" fill="#161616" stroke="#161616" stroke-width="0.2">10</text>
<text transform="translate(92.2,128.56) rotate(0.25) scale(0.85,1)" font-size="7.9" text-anchor="end" fill="#161616" stroke="#161616" stroke-width="0.2">20</text>
<text transform="translate(92.2,113.74) rotate(0.25) scale(0.85,1)" font-size="7.9" text-anchor="end" fill="#161616" stroke="#161616" stroke-width="0.2">30</text>
<text transform="translate(92.2,98.93) rotate(0.25) scale(0.85,1)" font-size="7.9" text-anchor="end" fill="#161616" stroke="#161616" stroke-width="0.2">40</text>
<text transform="translate(92.2,84.11) rotate(0.25) scale(0.85,1)" font-size="7.9" text-anchor="end" fill="#161616" stroke="#161616" stroke-width="0.2">50</text>
<text transform="translate(92.2,69.29) rotate(0.25) scale(0.85,1)" font-size="7.9" text-anchor="end" fill="#161616" stroke="#161616" stroke-width="0.2">60</text>
<text transform="translate(72,157.14) rotate(0.25) scale(0.85,1)" font-size="7.9" text-anchor="end" fill="#161616" stroke="#161616" stroke-width="0.2">0</text>
<text transform="translate(72,142.51) rotate(0.25) scale(0.85,1)" font-size="7.9" text-anchor="end" fill="#161616" stroke="#161616" stroke-width="0.2">100</text>
<text transform="translate(72,127.88) rotate(0.25) scale(0.85,1)" font-size="7.9" text-anchor="end" fill="#161616" stroke="#161616" stroke-width="0.2">200</text>
<text transform="translate(72,113.25) rotate(0.25) scale(0.85,1)" font-size="7.9" text-anchor="end" fill="#161616" stroke="#161616" stroke-width="0.2">300</text>
<text transform="translate(72,98.61) rotate(0.25) scale(0.85,1)" font-size="7.9" text-anchor="end" fill="#161616" stroke="#161616" stroke-width="0.2">400</text>
<text transform="translate(72,83.98) rotate(0.25) scale(0.85,1)" font-size="7.9" text-anchor="end" fill="#161616" stroke="#161616" stroke-width="0.2">500</text>
<text transform="translate(72,69.35) rotate(0.25) scale(0.85,1)" font-size="7.9" text-anchor="end" fill="#161616" stroke="#161616" stroke-width="0.2">600</text>
<text transform="translate(67.7,51.44) rotate(0.25) scale(0.85,1)" font-size="7.9" text-anchor="middle" fill="#161616" stroke="#161616" stroke-width="0.2">P</text>
<text transform="translate(67.7,58.84) rotate(0.25) scale(0.85,1)" font-size="7.9" text-anchor="middle" fill="#161616" stroke="#161616" stroke-width="0.2">[kPa]</text>
<text transform="translate(85.3,51.44) rotate(0.25) scale(0.85,1)" font-size="7.9" text-anchor="middle" fill="#161616" stroke="#161616" stroke-width="0.2">H</text>
<text transform="translate(85.3,58.84) rotate(0.25) scale(0.85,1)" font-size="7.9" text-anchor="middle" fill="#161616" stroke="#161616" stroke-width="0.2">[m]</text>
<text transform="translate(361.1,158.74) rotate(0.25) scale(0.85,1)" font-size="7.9" text-anchor="start" fill="#161616" stroke="#161616" stroke-width="0.2">0</text>
<text transform="translate(361.1,145.09) rotate(0.25) scale(0.85,1)" font-size="7.9" text-anchor="start" fill="#161616" stroke="#161616" stroke-width="0.2">30</text>
<text transform="translate(361.1,131.44) rotate(0.25) scale(0.85,1)" font-size="7.9" text-anchor="start" fill="#161616" stroke="#161616" stroke-width="0.2">60</text>
<text transform="translate(361.1,117.79) rotate(0.25) scale(0.85,1)" font-size="7.9" text-anchor="start" fill="#161616" stroke="#161616" stroke-width="0.2">90</text>
<text transform="translate(361.1,104.14) rotate(0.25) scale(0.85,1)" font-size="7.9" text-anchor="start" fill="#161616" stroke="#161616" stroke-width="0.2">120</text>
<text transform="translate(361.1,90.49) rotate(0.25) scale(0.85,1)" font-size="7.9" text-anchor="start" fill="#161616" stroke="#161616" stroke-width="0.2">150</text>
<text transform="translate(361.1,76.84) rotate(0.25) scale(0.85,1)" font-size="7.9" text-anchor="start" fill="#161616" stroke="#161616" stroke-width="0.2">180</text>
<text transform="translate(366.9,56.84) rotate(0.25) scale(0.85,1)" font-size="7.9" text-anchor="middle" fill="#161616" stroke="#161616" stroke-width="0.2">H</text>
<text transform="translate(366.9,63.84) rotate(0.25) scale(1.0,1)" font-size="7.9" text-anchor="middle" fill="#161616" stroke="#161616" stroke-width="0.2">[ft]</text>
<text transform="translate(128,77.34) rotate(0.25) scale(0.85,1)" font-size="7.9" text-anchor="middle" fill="#161616" stroke="#161616" stroke-width="0.2">-5</text>
<text transform="translate(128,97.64) rotate(0.25) scale(0.85,1)" font-size="7.9" text-anchor="middle" fill="#161616" stroke="#161616" stroke-width="0.2">-4</text>
<text transform="translate(128,112.44) rotate(0.25) scale(0.85,1)" font-size="7.9" text-anchor="middle" fill="#161616" stroke="#161616" stroke-width="0.2">-3</text>
<text transform="translate(126.7,125.44) rotate(0.25) scale(0.85,1)" font-size="7.9" text-anchor="middle" fill="#161616" stroke="#161616" stroke-width="0.2">-2</text>
<text transform="translate(126.7,137.74) rotate(0.25) scale(0.85,1)" font-size="7.9" text-anchor="middle" fill="#161616" stroke="#161616" stroke-width="0.2">-1</text>
<text transform="translate(334.3,64.2) rotate(0.25) scale(1.0,1)" font-size="8.9" text-anchor="middle" font-weight="bold" fill="#111">BW8</text>
<text transform="translate(334.1,74.9) rotate(0.25) scale(1.0,1)" font-size="8.9" text-anchor="middle" font-weight="bold" fill="#111">50Hz</text>
<text transform="translate(97.9,294.24) rotate(0.25) scale(0.85,1)" font-size="7.9" text-anchor="middle" fill="#161616" stroke="#161616" stroke-width="0.2">0</text>
<text transform="translate(117.67,294.24) rotate(0.25) scale(0.85,1)" font-size="7.9" text-anchor="middle" fill="#161616" stroke="#161616" stroke-width="0.2">1</text>
<text transform="translate(137.44,294.24) rotate(0.25) scale(0.85,1)" font-size="7.9" text-anchor="middle" fill="#161616" stroke="#161616" stroke-width="0.2">2</text>
<text transform="translate(157.21,294.24) rotate(0.25) scale(0.85,1)" font-size="7.9" text-anchor="middle" fill="#161616" stroke="#161616" stroke-width="0.2">3</text>
<text transform="translate(176.98,294.24) rotate(0.25) scale(0.85,1)" font-size="7.9" text-anchor="middle" fill="#161616" stroke="#161616" stroke-width="0.2">4</text>
<text transform="translate(196.75,294.24) rotate(0.25) scale(0.85,1)" font-size="7.9" text-anchor="middle" fill="#161616" stroke="#161616" stroke-width="0.2">5</text>
<text transform="translate(216.52,294.24) rotate(0.25) scale(0.85,1)" font-size="7.9" text-anchor="middle" fill="#161616" stroke="#161616" stroke-width="0.2">6</text>
<text transform="translate(236.29,294.24) rotate(0.25) scale(0.85,1)" font-size="7.9" text-anchor="middle" fill="#161616" stroke="#161616" stroke-width="0.2">7</text>
<text transform="translate(256.06,294.24) rotate(0.25) scale(0.85,1)" font-size="7.9" text-anchor="middle" fill="#161616" stroke="#161616" stroke-width="0.2">8</text>
<text transform="translate(275.83,294.24) rotate(0.25) scale(0.85,1)" font-size="7.9" text-anchor="middle" fill="#161616" stroke="#161616" stroke-width="0.2">9</text>
<text transform="translate(295.6,294.24) rotate(0.25) scale(0.85,1)" font-size="7.9" text-anchor="middle" fill="#161616" stroke="#161616" stroke-width="0.2">10</text>
<text transform="translate(315.37,294.24) rotate(0.25) scale(0.85,1)" font-size="7.9" text-anchor="middle" fill="#161616" stroke="#161616" stroke-width="0.2">11</text>
<text transform="translate(335.14,294.24) rotate(0.25) scale(0.85,1)" font-size="7.9" text-anchor="middle" fill="#161616" stroke="#161616" stroke-width="0.2">12</text>
<text transform="translate(348.1,294.04) rotate(0.25) scale(1.0,1)" font-size="7.9" text-anchor="start" fill="#161616" stroke="#161616" stroke-width="0.2">Q[m<tspan font-size="5.6" dy="-2.6">3</tspan><tspan dy="2.6">/h]</tspan></text>
<text transform="translate(89.2,282.94) rotate(0.25) scale(0.85,1)" font-size="7.9" text-anchor="end" fill="#161616" stroke="#161616" stroke-width="0.2">0</text>
<text transform="translate(89.2,269) rotate(0.25) scale(0.85,1)" font-size="7.9" text-anchor="end" fill="#161616" stroke="#161616" stroke-width="0.2">0.4</text>
<text transform="translate(89.2,254.76) rotate(0.25) scale(0.85,1)" font-size="7.9" text-anchor="end" fill="#161616" stroke="#161616" stroke-width="0.2">0.8</text>
<text transform="translate(89.2,240.52) rotate(0.25) scale(0.85,1)" font-size="7.9" text-anchor="end" fill="#161616" stroke="#161616" stroke-width="0.2">1.2</text>
<text transform="translate(89.2,226.28) rotate(0.25) scale(0.85,1)" font-size="7.9" text-anchor="end" fill="#161616" stroke="#161616" stroke-width="0.2">1.6</text>
<text transform="translate(70.8,279.74) rotate(0.25) scale(0.85,1)" font-size="7.9" text-anchor="end" fill="#161616" stroke="#161616" stroke-width="0.2">0</text>
<text transform="translate(70.8,267.58) rotate(0.25) scale(0.85,1)" font-size="7.9" text-anchor="end" fill="#161616" stroke="#161616" stroke-width="0.2">0.5</text>
<text transform="translate(70.8,254.82) rotate(0.25) scale(0.85,1)" font-size="7.9" text-anchor="end" fill="#161616" stroke="#161616" stroke-width="0.2">1.0</text>
<text transform="translate(70.8,242.06) rotate(0.25) scale(0.85,1)" font-size="7.9" text-anchor="end" fill="#161616" stroke="#161616" stroke-width="0.2">1.5</text>
<text transform="translate(70.8,229.3) rotate(0.25) scale(0.85,1)" font-size="7.9" text-anchor="end" fill="#161616" stroke="#161616" stroke-width="0.2">2.0</text>
<text transform="translate(67.4,205.34) rotate(0.25) scale(0.85,1)" font-size="7.9" text-anchor="middle" fill="#161616" stroke="#161616" stroke-width="0.2">P2</text>
<text transform="translate(67.4,212.04) rotate(0.25) scale(0.97,1)" font-size="7.9" text-anchor="middle" fill="#161616" stroke="#161616" stroke-width="0.2">[hp]</text>
<text transform="translate(83.8,205.34) rotate(0.25) scale(0.85,1)" font-size="7.9" text-anchor="middle" fill="#161616" stroke="#161616" stroke-width="0.2">P2</text>
<text transform="translate(83.8,212.04) rotate(0.25) scale(0.94,1)" font-size="7.9" text-anchor="middle" fill="#161616" stroke="#161616" stroke-width="0.2">[kW]</text>
<text transform="translate(321.6,219.34) rotate(0.25) scale(0.85,1)" font-size="7.9" text-anchor="middle" fill="#161616" stroke="#161616" stroke-width="0.2">-5</text>
<text transform="translate(321.6,234.64) rotate(0.25) scale(0.85,1)" font-size="7.9" text-anchor="middle" fill="#161616" stroke="#161616" stroke-width="0.2">-4</text>
<text transform="translate(321.6,245.84) rotate(0.25) scale(0.85,1)" font-size="7.9" text-anchor="middle" fill="#161616" stroke="#161616" stroke-width="0.2">-3</text>
<text transform="translate(321.6,258.74) rotate(0.25) scale(0.85,1)" font-size="7.9" text-anchor="middle" fill="#161616" stroke="#161616" stroke-width="0.2">-2</text>
<text transform="translate(321.6,268.94) rotate(0.25) scale(0.85,1)" font-size="7.9" text-anchor="middle" fill="#161616" stroke="#161616" stroke-width="0.2">-1</text>
<text transform="translate(98,384.54) rotate(0.25) scale(0.85,1)" font-size="7.9" text-anchor="middle" fill="#161616" stroke="#161616" stroke-width="0.2">0</text>
<text transform="translate(117.77,384.54) rotate(0.25) scale(0.85,1)" font-size="7.9" text-anchor="middle" fill="#161616" stroke="#161616" stroke-width="0.2">1</text>
<text transform="translate(137.54,384.54) rotate(0.25) scale(0.85,1)" font-size="7.9" text-anchor="middle" fill="#161616" stroke="#161616" stroke-width="0.2">2</text>
<text transform="translate(157.31,384.54) rotate(0.25) scale(0.85,1)" font-size="7.9" text-anchor="middle" fill="#161616" stroke="#161616" stroke-width="0.2">3</text>
<text transform="translate(177.08,384.54) rotate(0.25) scale(0.85,1)" font-size="7.9" text-anchor="middle" fill="#161616" stroke="#161616" stroke-width="0.2">4</text>
<text transform="translate(196.85,384.54) rotate(0.25) scale(0.85,1)" font-size="7.9" text-anchor="middle" fill="#161616" stroke="#161616" stroke-width="0.2">5</text>
<text transform="translate(216.62,384.54) rotate(0.25) scale(0.85,1)" font-size="7.9" text-anchor="middle" fill="#161616" stroke="#161616" stroke-width="0.2">6</text>
<text transform="translate(236.39,384.54) rotate(0.25) scale(0.85,1)" font-size="7.9" text-anchor="middle" fill="#161616" stroke="#161616" stroke-width="0.2">7</text>
<text transform="translate(256.16,384.54) rotate(0.25) scale(0.85,1)" font-size="7.9" text-anchor="middle" fill="#161616" stroke="#161616" stroke-width="0.2">8</text>
<text transform="translate(275.93,384.54) rotate(0.25) scale(0.85,1)" font-size="7.9" text-anchor="middle" fill="#161616" stroke="#161616" stroke-width="0.2">9</text>
<text transform="translate(295.7,384.54) rotate(0.25) scale(0.85,1)" font-size="7.9" text-anchor="middle" fill="#161616" stroke="#161616" stroke-width="0.2">10</text>
<text transform="translate(315.47,384.54) rotate(0.25) scale(0.85,1)" font-size="7.9" text-anchor="middle" fill="#161616" stroke="#161616" stroke-width="0.2">11</text>
<text transform="translate(335.24,384.54) rotate(0.25) scale(0.85,1)" font-size="7.9" text-anchor="middle" fill="#161616" stroke="#161616" stroke-width="0.2">12</text>
<text transform="translate(348.2,384.44) rotate(0.25) scale(1.0,1)" font-size="7.9" text-anchor="start" fill="#161616" stroke="#161616" stroke-width="0.2">Q[m<tspan font-size="5.6" dy="-2.6">3</tspan><tspan dy="2.6">/h]</tspan></text>
<text transform="translate(90.3,372.24) rotate(0.25) scale(0.85,1)" font-size="7.9" text-anchor="end" fill="#161616" stroke="#161616" stroke-width="0.2">0</text>
<text transform="translate(90.3,358.17) rotate(0.25) scale(0.85,1)" font-size="7.9" text-anchor="end" fill="#161616" stroke="#161616" stroke-width="0.2">1.5</text>
<text transform="translate(90.3,343.5) rotate(0.25) scale(0.85,1)" font-size="7.9" text-anchor="end" fill="#161616" stroke="#161616" stroke-width="0.2">3.0</text>
<text transform="translate(90.3,328.83) rotate(0.25) scale(0.85,1)" font-size="7.9" text-anchor="end" fill="#161616" stroke="#161616" stroke-width="0.2">4.5</text>
<text transform="translate(70.6,370.44) rotate(0.25) scale(0.85,1)" font-size="7.9" text-anchor="end" fill="#161616" stroke="#161616" stroke-width="0.2">0</text>
<text transform="translate(70.6,357.08) rotate(0.25) scale(0.85,1)" font-size="7.9" text-anchor="end" fill="#161616" stroke="#161616" stroke-width="0.2">5</text>
<text transform="translate(70.6,343.71) rotate(0.25) scale(0.85,1)" font-size="7.9" text-anchor="end" fill="#161616" stroke="#161616" stroke-width="0.2">10</text>
<text transform="translate(70.6,330.35) rotate(0.25) scale(0.85,1)" font-size="7.9" text-anchor="end" fill="#161616" stroke="#161616" stroke-width="0.2">15</text>
<text transform="translate(64.9,307.84) rotate(0.25) scale(0.85,1)" font-size="7.9" text-anchor="middle" fill="#161616" stroke="#161616" stroke-width="0.2">NPSH</text>
<text transform="translate(65.2,314.84) rotate(0.25) scale(1.0,1)" font-size="7.9" text-anchor="middle" fill="#161616" stroke="#161616" stroke-width="0.2">[ft]</text>
<text transform="translate(86.4,307.84) rotate(0.25) scale(0.85,1)" font-size="7.9" text-anchor="middle" fill="#161616" stroke="#161616" stroke-width="0.2">NPSH</text>
<text transform="translate(86.5,314.84) rotate(0.25) scale(0.85,1)" font-size="7.9" text-anchor="middle" fill="#161616" stroke="#161616" stroke-width="0.2">[m]</text>
<text transform="translate(361.3,372.54) rotate(0.25) scale(0.85,1)" font-size="7.9" text-anchor="start" fill="#161616" stroke="#161616" stroke-width="0.2">0</text>
<text transform="translate(361.3,357.87) rotate(0.25) scale(0.85,1)" font-size="7.9" text-anchor="start" fill="#161616" stroke="#161616" stroke-width="0.2">20</text>
<text transform="translate(361.3,343.2) rotate(0.25) scale(0.85,1)" font-size="7.9" text-anchor="start" fill="#161616" stroke="#161616" stroke-width="0.2">40</text>
<text transform="translate(361.3,328.53) rotate(0.25) scale(0.85,1)" font-size="7.9" text-anchor="start" fill="#161616" stroke="#161616" stroke-width="0.2">60</text>
<text transform="translate(364.2,310.44) rotate(0.25) scale(0.85,1)" font-size="7.9" text-anchor="middle" fill="#161616" stroke="#161616" stroke-width="0.2">Eta</text>
<text transform="translate(364.2,317.04) rotate(0.25) scale(0.92,1)" font-size="7.9" text-anchor="middle" fill="#161616" stroke="#161616" stroke-width="0.2">[%]</text>
<text transform="translate(248.4,335.44) rotate(0.25) scale(0.85,1)" font-size="7.9" text-anchor="middle" fill="#161616" stroke="#161616" stroke-width="0.2">Eta</text>
<text transform="translate(225.7,362.14) rotate(0.25) scale(0.85,1)" font-size="7.9" text-anchor="middle" fill="#161616" stroke="#161616" stroke-width="0.2">NPSH</text>
<text transform="translate(213.5,401.22) rotate(0.25) scale(1.0,1)" font-size="8.1" text-anchor="middle" fill="#161616" textLength="167.6" lengthAdjust="spacingAndGlyphs">It is recommended to be used within lift range.</text>
<text transform="translate(535.2,44.84) rotate(0.25) scale(0.85,1)" font-size="7.9" text-anchor="middle" fill="#161616" stroke="#161616" stroke-width="0.2">0</text>
<text transform="translate(564.45,44.84) rotate(0.25) scale(0.85,1)" font-size="7.9" text-anchor="middle" fill="#161616" stroke="#161616" stroke-width="0.2">10</text>
<text transform="translate(593.7,44.84) rotate(0.25) scale(0.85,1)" font-size="7.9" text-anchor="middle" fill="#161616" stroke="#161616" stroke-width="0.2">20</text>
<text transform="translate(622.95,44.84) rotate(0.25) scale(0.85,1)" font-size="7.9" text-anchor="middle" fill="#161616" stroke="#161616" stroke-width="0.2">30</text>
<text transform="translate(652.2,44.84) rotate(0.25) scale(0.85,1)" font-size="7.9" text-anchor="middle" fill="#161616" stroke="#161616" stroke-width="0.2">40</text>
<text transform="translate(681.45,44.84) rotate(0.25) scale(0.85,1)" font-size="7.9" text-anchor="middle" fill="#161616" stroke="#161616" stroke-width="0.2">50</text>
<text transform="translate(710.7,44.84) rotate(0.25) scale(0.85,1)" font-size="7.9" text-anchor="middle" fill="#161616" stroke="#161616" stroke-width="0.2">60</text>
<text transform="translate(739.95,44.84) rotate(0.25) scale(0.85,1)" font-size="7.9" text-anchor="middle" fill="#161616" stroke="#161616" stroke-width="0.2">70</text>
<text transform="translate(769.2,44.84) rotate(0.25) scale(0.85,1)" font-size="7.9" text-anchor="middle" fill="#161616" stroke="#161616" stroke-width="0.2">80</text>
<text transform="translate(788.3,44.84) rotate(0.25) scale(0.965,1)" font-size="7.9" text-anchor="start" fill="#161616" stroke="#161616" stroke-width="0.2">Q[IM.GPM]</text>
<text transform="translate(535.5,24.04) rotate(0.25) scale(0.85,1)" font-size="7.9" text-anchor="middle" fill="#161616" stroke="#161616" stroke-width="0.2">0</text>
<text transform="translate(559.79,24.04) rotate(0.25) scale(0.85,1)" font-size="7.9" text-anchor="middle" fill="#161616" stroke="#161616" stroke-width="0.2">10</text>
<text transform="translate(584.08,24.04) rotate(0.25) scale(0.85,1)" font-size="7.9" text-anchor="middle" fill="#161616" stroke="#161616" stroke-width="0.2">20</text>
<text transform="translate(608.37,24.04) rotate(0.25) scale(0.85,1)" font-size="7.9" text-anchor="middle" fill="#161616" stroke="#161616" stroke-width="0.2">30</text>
<text transform="translate(632.66,24.04) rotate(0.25) scale(0.85,1)" font-size="7.9" text-anchor="middle" fill="#161616" stroke="#161616" stroke-width="0.2">40</text>
<text transform="translate(656.95,24.04) rotate(0.25) scale(0.85,1)" font-size="7.9" text-anchor="middle" fill="#161616" stroke="#161616" stroke-width="0.2">50</text>
<text transform="translate(681.24,24.04) rotate(0.25) scale(0.85,1)" font-size="7.9" text-anchor="middle" fill="#161616" stroke="#161616" stroke-width="0.2">60</text>
<text transform="translate(705.53,24.04) rotate(0.25) scale(0.85,1)" font-size="7.9" text-anchor="middle" fill="#161616" stroke="#161616" stroke-width="0.2">70</text>
<text transform="translate(729.82,24.04) rotate(0.25) scale(0.85,1)" font-size="7.9" text-anchor="middle" fill="#161616" stroke="#161616" stroke-width="0.2">80</text>
<text transform="translate(754.11,24.04) rotate(0.25) scale(0.85,1)" font-size="7.9" text-anchor="middle" fill="#161616" stroke="#161616" stroke-width="0.2">90</text>
<text transform="translate(778.4,24.04) rotate(0.25) scale(0.85,1)" font-size="7.9" text-anchor="middle" fill="#161616" stroke="#161616" stroke-width="0.2">100</text>
<text transform="translate(788.3,23.54) rotate(0.25) scale(0.92,1)" font-size="7.9" text-anchor="start" fill="#161616" stroke="#161616" stroke-width="0.2">Q[US.GPM]</text>
<text transform="translate(535.7,168.04) rotate(0.25) scale(0.85,1)" font-size="7.9" text-anchor="middle" fill="#161616" stroke="#161616" stroke-width="0.2">0</text>
<text transform="translate(557.13,168.04) rotate(0.25) scale(0.85,1)" font-size="7.9" text-anchor="middle" fill="#161616" stroke="#161616" stroke-width="0.2">2</text>
<text transform="translate(578.57,168.04) rotate(0.25) scale(0.85,1)" font-size="7.9" text-anchor="middle" fill="#161616" stroke="#161616" stroke-width="0.2">4</text>
<text transform="translate(600,168.04) rotate(0.25) scale(0.85,1)" font-size="7.9" text-anchor="middle" fill="#161616" stroke="#161616" stroke-width="0.2">6</text>
<text transform="translate(621.43,168.04) rotate(0.25) scale(0.85,1)" font-size="7.9" text-anchor="middle" fill="#161616" stroke="#161616" stroke-width="0.2">8</text>
<text transform="translate(642.87,168.04) rotate(0.25) scale(0.85,1)" font-size="7.9" text-anchor="middle" fill="#161616" stroke="#161616" stroke-width="0.2">10</text>
<text transform="translate(664.3,168.04) rotate(0.25) scale(0.85,1)" font-size="7.9" text-anchor="middle" fill="#161616" stroke="#161616" stroke-width="0.2">12</text>
<text transform="translate(685.73,168.04) rotate(0.25) scale(0.85,1)" font-size="7.9" text-anchor="middle" fill="#161616" stroke="#161616" stroke-width="0.2">14</text>
<text transform="translate(707.17,168.04) rotate(0.25) scale(0.85,1)" font-size="7.9" text-anchor="middle" fill="#161616" stroke="#161616" stroke-width="0.2">16</text>
<text transform="translate(728.6,168.04) rotate(0.25) scale(0.85,1)" font-size="7.9" text-anchor="middle" fill="#161616" stroke="#161616" stroke-width="0.2">18</text>
<text transform="translate(750.03,168.04) rotate(0.25) scale(0.85,1)" font-size="7.9" text-anchor="middle" fill="#161616" stroke="#161616" stroke-width="0.2">20</text>
<text transform="translate(771.47,168.04) rotate(0.25) scale(0.85,1)" font-size="7.9" text-anchor="middle" fill="#161616" stroke="#161616" stroke-width="0.2">22</text>
<text transform="translate(785.7,168.04) rotate(0.25) scale(1.0,1)" font-size="7.9" text-anchor="start" fill="#161616" stroke="#161616" stroke-width="0.2">Q[m<tspan font-size="5.6" dy="-2.6">3</tspan><tspan dy="2.6">/h]</tspan></text>
<text transform="translate(535.6,189.04) rotate(0.25) scale(0.85,1)" font-size="7.9" text-anchor="middle" fill="#161616" stroke="#161616" stroke-width="0.2">0</text>
<text transform="translate(555.35,189.04) rotate(0.25) scale(0.85,1)" font-size="7.9" text-anchor="middle" fill="#161616" stroke="#161616" stroke-width="0.2">0.5</text>
<text transform="translate(575.1,189.04) rotate(0.25) scale(0.85,1)" font-size="7.9" text-anchor="middle" fill="#161616" stroke="#161616" stroke-width="0.2">1</text>
<text transform="translate(594.85,189.04) rotate(0.25) scale(0.85,1)" font-size="7.9" text-anchor="middle" fill="#161616" stroke="#161616" stroke-width="0.2">1.5</text>
<text transform="translate(614.6,189.04) rotate(0.25) scale(0.85,1)" font-size="7.9" text-anchor="middle" fill="#161616" stroke="#161616" stroke-width="0.2">2</text>
<text transform="translate(634.35,189.04) rotate(0.25) scale(0.85,1)" font-size="7.9" text-anchor="middle" fill="#161616" stroke="#161616" stroke-width="0.2">2.5</text>
<text transform="translate(654.1,189.04) rotate(0.25) scale(0.85,1)" font-size="7.9" text-anchor="middle" fill="#161616" stroke="#161616" stroke-width="0.2">3</text>
<text transform="translate(673.85,189.04) rotate(0.25) scale(0.85,1)" font-size="7.9" text-anchor="middle" fill="#161616" stroke="#161616" stroke-width="0.2">3.5</text>
<text transform="translate(693.6,189.04) rotate(0.25) scale(0.85,1)" font-size="7.9" text-anchor="middle" fill="#161616" stroke="#161616" stroke-width="0.2">4</text>
<text transform="translate(713.35,189.04) rotate(0.25) scale(0.85,1)" font-size="7.9" text-anchor="middle" fill="#161616" stroke="#161616" stroke-width="0.2">4.5</text>
<text transform="translate(733.1,189.04) rotate(0.25) scale(0.85,1)" font-size="7.9" text-anchor="middle" fill="#161616" stroke="#161616" stroke-width="0.2">5</text>
<text transform="translate(752.85,189.04) rotate(0.25) scale(0.85,1)" font-size="7.9" text-anchor="middle" fill="#161616" stroke="#161616" stroke-width="0.2">5.5</text>
<text transform="translate(772.6,189.04) rotate(0.25) scale(0.85,1)" font-size="7.9" text-anchor="middle" fill="#161616" stroke="#161616" stroke-width="0.2">6</text>
<text transform="translate(785.7,189.04) rotate(0.25) scale(1.0,1)" font-size="7.9" text-anchor="start" fill="#161616" stroke="#161616" stroke-width="0.2">Q[l/s]</text>
<text transform="translate(528,156.04) rotate(0.25) scale(0.85,1)" font-size="7.9" text-anchor="end" fill="#161616" stroke="#161616" stroke-width="0.2">0</text>
<text transform="translate(528,136.04) rotate(0.25) scale(0.85,1)" font-size="7.9" text-anchor="end" fill="#161616" stroke="#161616" stroke-width="0.2">10</text>
<text transform="translate(528,116.04) rotate(0.25) scale(0.85,1)" font-size="7.9" text-anchor="end" fill="#161616" stroke="#161616" stroke-width="0.2">20</text>
<text transform="translate(528,96.04) rotate(0.25) scale(0.85,1)" font-size="7.9" text-anchor="end" fill="#161616" stroke="#161616" stroke-width="0.2">30</text>
<text transform="translate(528,76.04) rotate(0.25) scale(0.85,1)" font-size="7.9" text-anchor="end" fill="#161616" stroke="#161616" stroke-width="0.2">40</text>
<text transform="translate(508.7,158.04) rotate(0.25) scale(0.85,1)" font-size="7.9" text-anchor="end" fill="#161616" stroke="#161616" stroke-width="0.2">0</text>
<text transform="translate(508.7,137.59) rotate(0.25) scale(0.85,1)" font-size="7.9" text-anchor="end" fill="#161616" stroke="#161616" stroke-width="0.2">100</text>
<text transform="translate(508.7,117.14) rotate(0.25) scale(0.85,1)" font-size="7.9" text-anchor="end" fill="#161616" stroke="#161616" stroke-width="0.2">200</text>
<text transform="translate(508.7,96.69) rotate(0.25) scale(0.85,1)" font-size="7.9" text-anchor="end" fill="#161616" stroke="#161616" stroke-width="0.2">300</text>
<text transform="translate(508.7,76.24) rotate(0.25) scale(0.85,1)" font-size="7.9" text-anchor="end" fill="#161616" stroke="#161616" stroke-width="0.2">400</text>
<text transform="translate(505.3,52.64) rotate(0.25) scale(0.85,1)" font-size="7.9" text-anchor="middle" fill="#161616" stroke="#161616" stroke-width="0.2">P</text>
<text transform="translate(504.9,59.64) rotate(0.25) scale(0.85,1)" font-size="7.9" text-anchor="middle" fill="#161616" stroke="#161616" stroke-width="0.2">[kPa]</text>
<text transform="translate(522.6,52.64) rotate(0.25) scale(0.85,1)" font-size="7.9" text-anchor="middle" fill="#161616" stroke="#161616" stroke-width="0.2">H</text>
<text transform="translate(522.4,59.64) rotate(0.25) scale(0.85,1)" font-size="7.9" text-anchor="middle" fill="#161616" stroke="#161616" stroke-width="0.2">[m]</text>
<text transform="translate(800,158.24) rotate(0.25) scale(0.85,1)" font-size="7.9" text-anchor="start" fill="#161616" stroke="#161616" stroke-width="0.2">0</text>
<text transform="translate(800,138.24) rotate(0.25) scale(0.85,1)" font-size="7.9" text-anchor="start" fill="#161616" stroke="#161616" stroke-width="0.2">30</text>
<text transform="translate(800,118.24) rotate(0.25) scale(0.85,1)" font-size="7.9" text-anchor="start" fill="#161616" stroke="#161616" stroke-width="0.2">60</text>
<text transform="translate(800,98.24) rotate(0.25) scale(0.85,1)" font-size="7.9" text-anchor="start" fill="#161616" stroke="#161616" stroke-width="0.2">90</text>
<text transform="translate(800,78.24) rotate(0.25) scale(0.85,1)" font-size="7.9" text-anchor="start" fill="#161616" stroke="#161616" stroke-width="0.2">120</text>
<text transform="translate(804.6,58.34) rotate(0.25) scale(0.85,1)" font-size="7.9" text-anchor="middle" fill="#161616" stroke="#161616" stroke-width="0.2">H</text>
<text transform="translate(804.6,65.54) rotate(0.25) scale(1.0,1)" font-size="7.9" text-anchor="middle" fill="#161616" stroke="#161616" stroke-width="0.2">[ft]</text>
<text transform="translate(568.3,70.64) rotate(0.25) scale(0.85,1)" font-size="7.9" text-anchor="middle" fill="#161616" stroke="#161616" stroke-width="0.2">-3</text>
<text transform="translate(567.2,101.14) rotate(0.25) scale(0.85,1)" font-size="7.9" text-anchor="middle" fill="#161616" stroke="#161616" stroke-width="0.2">-2</text>
<text transform="translate(770.4,61.7) rotate(0.25) scale(1.0,1)" font-size="8.9" text-anchor="middle" font-weight="bold" fill="#111">BW16</text>
<text transform="translate(770,72.3) rotate(0.25) scale(1.0,1)" font-size="8.9" text-anchor="middle" font-weight="bold" fill="#111">50Hz</text>
<text transform="translate(535.5,293.14) rotate(0.25) scale(0.85,1)" font-size="7.9" text-anchor="middle" fill="#161616" stroke="#161616" stroke-width="0.2">0</text>
<text transform="translate(556.93,293.14) rotate(0.25) scale(0.85,1)" font-size="7.9" text-anchor="middle" fill="#161616" stroke="#161616" stroke-width="0.2">2</text>
<text transform="translate(578.37,293.14) rotate(0.25) scale(0.85,1)" font-size="7.9" text-anchor="middle" fill="#161616" stroke="#161616" stroke-width="0.2">4</text>
<text transform="translate(599.8,293.14) rotate(0.25) scale(0.85,1)" font-size="7.9" text-anchor="middle" fill="#161616" stroke="#161616" stroke-width="0.2">6</text>
<text transform="translate(621.23,293.14) rotate(0.25) scale(0.85,1)" font-size="7.9" text-anchor="middle" fill="#161616" stroke="#161616" stroke-width="0.2">8</text>
<text transform="translate(642.67,293.14) rotate(0.25) scale(0.85,1)" font-size="7.9" text-anchor="middle" fill="#161616" stroke="#161616" stroke-width="0.2">10</text>
<text transform="translate(664.1,293.14) rotate(0.25) scale(0.85,1)" font-size="7.9" text-anchor="middle" fill="#161616" stroke="#161616" stroke-width="0.2">12</text>
<text transform="translate(685.53,293.14) rotate(0.25) scale(0.85,1)" font-size="7.9" text-anchor="middle" fill="#161616" stroke="#161616" stroke-width="0.2">14</text>
<text transform="translate(706.97,293.14) rotate(0.25) scale(0.85,1)" font-size="7.9" text-anchor="middle" fill="#161616" stroke="#161616" stroke-width="0.2">16</text>
<text transform="translate(728.4,293.14) rotate(0.25) scale(0.85,1)" font-size="7.9" text-anchor="middle" fill="#161616" stroke="#161616" stroke-width="0.2">18</text>
<text transform="translate(749.83,293.14) rotate(0.25) scale(0.85,1)" font-size="7.9" text-anchor="middle" fill="#161616" stroke="#161616" stroke-width="0.2">20</text>
<text transform="translate(771.27,293.14) rotate(0.25) scale(0.85,1)" font-size="7.9" text-anchor="middle" fill="#161616" stroke="#161616" stroke-width="0.2">22</text>
<text transform="translate(785.7,293.24) rotate(0.25) scale(1.0,1)" font-size="7.9" text-anchor="start" fill="#161616" stroke="#161616" stroke-width="0.2">Q[m<tspan font-size="5.6" dy="-2.6">3</tspan><tspan dy="2.6">/h]</tspan></text>
<text transform="translate(528.1,286.24) rotate(0.25) scale(0.85,1)" font-size="7.9" text-anchor="end" fill="#161616" stroke="#161616" stroke-width="0.2">0</text>
<text transform="translate(528.1,276.24) rotate(0.25) scale(0.85,1)" font-size="7.9" text-anchor="end" fill="#161616" stroke="#161616" stroke-width="0.2">0.5</text>
<text transform="translate(528.1,266.24) rotate(0.25) scale(0.85,1)" font-size="7.9" text-anchor="end" fill="#161616" stroke="#161616" stroke-width="0.2">1.0</text>
<text transform="translate(528.1,256.24) rotate(0.25) scale(0.85,1)" font-size="7.9" text-anchor="end" fill="#161616" stroke="#161616" stroke-width="0.2">1.5</text>
<text transform="translate(528.1,246.24) rotate(0.25) scale(0.85,1)" font-size="7.9" text-anchor="end" fill="#161616" stroke="#161616" stroke-width="0.2">2.0</text>
<text transform="translate(528.1,236.24) rotate(0.25) scale(0.85,1)" font-size="7.9" text-anchor="end" fill="#161616" stroke="#161616" stroke-width="0.2">2.5</text>
<text transform="translate(528.1,226.24) rotate(0.25) scale(0.85,1)" font-size="7.9" text-anchor="end" fill="#161616" stroke="#161616" stroke-width="0.2">3.0</text>
<text transform="translate(506,282.94) rotate(0.25) scale(0.85,1)" font-size="7.9" text-anchor="end" fill="#161616" stroke="#161616" stroke-width="0.2">0</text>
<text transform="translate(506,274.63) rotate(0.25) scale(0.85,1)" font-size="7.9" text-anchor="end" fill="#161616" stroke="#161616" stroke-width="0.2">0.6</text>
<text transform="translate(506,266.31) rotate(0.25) scale(0.85,1)" font-size="7.9" text-anchor="end" fill="#161616" stroke="#161616" stroke-width="0.2">1.2</text>
<text transform="translate(506,258) rotate(0.25) scale(0.85,1)" font-size="7.9" text-anchor="end" fill="#161616" stroke="#161616" stroke-width="0.2">1.8</text>
<text transform="translate(506,249.68) rotate(0.25) scale(0.85,1)" font-size="7.9" text-anchor="end" fill="#161616" stroke="#161616" stroke-width="0.2">2.4</text>
<text transform="translate(506,241.36) rotate(0.25) scale(0.85,1)" font-size="7.9" text-anchor="end" fill="#161616" stroke="#161616" stroke-width="0.2">3.0</text>
<text transform="translate(506,233.05) rotate(0.25) scale(0.85,1)" font-size="7.9" text-anchor="end" fill="#161616" stroke="#161616" stroke-width="0.2">3.6</text>
<text transform="translate(505.5,209.14) rotate(0.25) scale(0.85,1)" font-size="7.9" text-anchor="middle" fill="#161616" stroke="#161616" stroke-width="0.2">P2</text>
<text transform="translate(505.5,216.34) rotate(0.25) scale(0.97,1)" font-size="7.9" text-anchor="middle" fill="#161616" stroke="#161616" stroke-width="0.2">[hp]</text>
<text transform="translate(522.8,209.14) rotate(0.25) scale(0.85,1)" font-size="7.9" text-anchor="middle" fill="#161616" stroke="#161616" stroke-width="0.2">P2</text>
<text transform="translate(522.6,216.34) rotate(0.25) scale(0.94,1)" font-size="7.9" text-anchor="middle" fill="#161616" stroke="#161616" stroke-width="0.2">[kW]</text>
<text transform="translate(779.4,237.54) rotate(0.25) scale(0.85,1)" font-size="7.9" text-anchor="middle" fill="#161616" stroke="#161616" stroke-width="0.2">-3</text>
<text transform="translate(779.9,254.94) rotate(0.25) scale(0.85,1)" font-size="7.9" text-anchor="middle" fill="#161616" stroke="#161616" stroke-width="0.2">-2</text>
<text transform="translate(537.9,387.44) rotate(0.25) scale(0.85,1)" font-size="7.9" text-anchor="middle" fill="#161616" stroke="#161616" stroke-width="0.2">0</text>
<text transform="translate(559.1,387.44) rotate(0.25) scale(0.85,1)" font-size="7.9" text-anchor="middle" fill="#161616" stroke="#161616" stroke-width="0.2">2</text>
<text transform="translate(580.3,387.44) rotate(0.25) scale(0.85,1)" font-size="7.9" text-anchor="middle" fill="#161616" stroke="#161616" stroke-width="0.2">4</text>
<text transform="translate(601.5,387.44) rotate(0.25) scale(0.85,1)" font-size="7.9" text-anchor="middle" fill="#161616" stroke="#161616" stroke-width="0.2">6</text>
<text transform="translate(622.7,387.44) rotate(0.25) scale(0.85,1)" font-size="7.9" text-anchor="middle" fill="#161616" stroke="#161616" stroke-width="0.2">8</text>
<text transform="translate(643.9,387.44) rotate(0.25) scale(0.85,1)" font-size="7.9" text-anchor="middle" fill="#161616" stroke="#161616" stroke-width="0.2">10</text>
<text transform="translate(665.1,387.44) rotate(0.25) scale(0.85,1)" font-size="7.9" text-anchor="middle" fill="#161616" stroke="#161616" stroke-width="0.2">12</text>
<text transform="translate(686.3,387.44) rotate(0.25) scale(0.85,1)" font-size="7.9" text-anchor="middle" fill="#161616" stroke="#161616" stroke-width="0.2">14</text>
<text transform="translate(707.5,387.44) rotate(0.25) scale(0.85,1)" font-size="7.9" text-anchor="middle" fill="#161616" stroke="#161616" stroke-width="0.2">16</text>
<text transform="translate(728.7,387.44) rotate(0.25) scale(0.85,1)" font-size="7.9" text-anchor="middle" fill="#161616" stroke="#161616" stroke-width="0.2">18</text>
<text transform="translate(749.9,387.44) rotate(0.25) scale(0.85,1)" font-size="7.9" text-anchor="middle" fill="#161616" stroke="#161616" stroke-width="0.2">20</text>
<text transform="translate(771.1,387.44) rotate(0.25) scale(0.85,1)" font-size="7.9" text-anchor="middle" fill="#161616" stroke="#161616" stroke-width="0.2">22</text>
<text transform="translate(785.7,387.34) rotate(0.25) scale(1.0,1)" font-size="7.9" text-anchor="start" fill="#161616" stroke="#161616" stroke-width="0.2">Q[m<tspan font-size="5.6" dy="-2.6">3</tspan><tspan dy="2.6">/h]</tspan></text>
<text transform="translate(528.7,378.64) rotate(0.25) scale(0.85,1)" font-size="7.9" text-anchor="end" fill="#161616" stroke="#161616" stroke-width="0.2">0</text>
<text transform="translate(528.7,367.34) rotate(0.25) scale(0.85,1)" font-size="7.9" text-anchor="end" fill="#161616" stroke="#161616" stroke-width="0.2">2</text>
<text transform="translate(528.7,356.04) rotate(0.25) scale(0.85,1)" font-size="7.9" text-anchor="end" fill="#161616" stroke="#161616" stroke-width="0.2">4</text>
<text transform="translate(528.7,344.74) rotate(0.25) scale(0.85,1)" font-size="7.9" text-anchor="end" fill="#161616" stroke="#161616" stroke-width="0.2">6</text>
<text transform="translate(528.7,333.44) rotate(0.25) scale(0.85,1)" font-size="7.9" text-anchor="end" fill="#161616" stroke="#161616" stroke-width="0.2">8</text>
<text transform="translate(509.4,378.64) rotate(0.25) scale(0.85,1)" font-size="7.9" text-anchor="end" fill="#161616" stroke="#161616" stroke-width="0.2">0</text>
<text transform="translate(509.4,368.74) rotate(0.25) scale(0.85,1)" font-size="7.9" text-anchor="end" fill="#161616" stroke="#161616" stroke-width="0.2">6</text>
<text transform="translate(509.4,358.84) rotate(0.25) scale(0.85,1)" font-size="7.9" text-anchor="end" fill="#161616" stroke="#161616" stroke-width="0.2">12</text>
<text transform="translate(509.4,348.94) rotate(0.25) scale(0.85,1)" font-size="7.9" text-anchor="end" fill="#161616" stroke="#161616" stroke-width="0.2">18</text>
<text transform="translate(509.4,340.04) rotate(0.25) scale(0.85,1)" font-size="7.9" text-anchor="end" fill="#161616" stroke="#161616" stroke-width="0.2">24</text>
<text transform="translate(505.3,314.74) rotate(0.25) scale(0.85,1)" font-size="7.9" text-anchor="middle" fill="#161616" stroke="#161616" stroke-width="0.2">NPSH</text>
<text transform="translate(505.1,321.94) rotate(0.25) scale(1.0,1)" font-size="7.9" text-anchor="middle" fill="#161616" stroke="#161616" stroke-width="0.2">[ft]</text>
<text transform="translate(526.4,314.74) rotate(0.25) scale(0.85,1)" font-size="7.9" text-anchor="middle" fill="#161616" stroke="#161616" stroke-width="0.2">NPSH</text>
<text transform="translate(526.2,321.94) rotate(0.25) scale(0.85,1)" font-size="7.9" text-anchor="middle" fill="#161616" stroke="#161616" stroke-width="0.2">[m]</text>
<text transform="translate(799.5,379.24) rotate(0.25) scale(0.85,1)" font-size="7.9" text-anchor="start" fill="#161616" stroke="#161616" stroke-width="0.2">0</text>
<text transform="translate(799.5,367.94) rotate(0.25) scale(0.85,1)" font-size="7.9" text-anchor="start" fill="#161616" stroke="#161616" stroke-width="0.2">15</text>
<text transform="translate(799.5,356.64) rotate(0.25) scale(0.85,1)" font-size="7.9" text-anchor="start" fill="#161616" stroke="#161616" stroke-width="0.2">30</text>
<text transform="translate(799.5,345.34) rotate(0.25) scale(0.85,1)" font-size="7.9" text-anchor="start" fill="#161616" stroke="#161616" stroke-width="0.2">45</text>
<text transform="translate(799.5,334.04) rotate(0.25) scale(0.85,1)" font-size="7.9" text-anchor="start" fill="#161616" stroke="#161616" stroke-width="0.2">60</text>
<text transform="translate(805,317.64) rotate(0.25) scale(0.85,1)" font-size="7.9" text-anchor="middle" fill="#161616" stroke="#161616" stroke-width="0.2">Eta</text>
<text transform="translate(805,324.64) rotate(0.25) scale(0.92,1)" font-size="7.9" text-anchor="middle" fill="#161616" stroke="#161616" stroke-width="0.2">[%]</text>
<text transform="translate(676.3,340.94) rotate(0.25) scale(0.85,1)" font-size="7.9" text-anchor="middle" fill="#161616" stroke="#161616" stroke-width="0.2">Eta</text>
<text transform="translate(696.6,363.84) rotate(0.25) scale(0.85,1)" font-size="7.9" text-anchor="middle" fill="#161616" stroke="#161616" stroke-width="0.2">NPSH</text>
<text transform="translate(660.9,408.32) rotate(0.25) scale(1.0,1)" font-size="8.1" text-anchor="middle" fill="#161616" textLength="167.4" lengthAdjust="spacingAndGlyphs">It is recommended to be used within lift range.</text>
<text x="31.6" y="438.84" font-size="6.5" text-anchor="middle" fill="#3a3a3a">Model</text>
<text x="80.9" y="433.34" font-size="6.5" text-anchor="middle" fill="#3a3a3a">Power</text>
<text x="67.2" y="444.34" font-size="6.5" text-anchor="middle" fill="#3a3a3a">kW</text>
<text x="94.9" y="444.34" font-size="6.5" text-anchor="middle" fill="#3a3a3a">HP</text>
<text x="126.35" y="438.84" font-size="6.5" text-anchor="middle" fill="#3a3a3a">Q(m<tspan font-size="4" dy="-2.4">3</tspan><tspan dy="2.4">/h)</tspan></text>
<text x="164.15" y="438.84" font-size="6.5" text-anchor="middle" fill="#3a3a3a">5</text>
<text x="204.25" y="438.84" font-size="6.5" text-anchor="middle" fill="#3a3a3a">6</text>
<text x="244.35" y="438.84" font-size="6.5" text-anchor="middle" fill="#3a3a3a">7</text>
<text x="284.45" y="438.84" font-size="6.5" text-anchor="middle" fill="#3a3a3a">8</text>
<text x="324.55" y="438.84" font-size="6.5" text-anchor="middle" fill="#3a3a3a">9</text>
<text x="364.7" y="438.84" font-size="6.5" text-anchor="middle" fill="#3a3a3a">10</text>
<text x="410.05" y="435.44" font-size="6.5" text-anchor="middle" fill="#3a3a3a">Head Range</text>
<text x="410.05" y="442.44" font-size="6.5" text-anchor="middle" fill="#3a3a3a">(m)</text>
<text x="126.35" y="470.54" font-size="6.5" text-anchor="middle" fill="#3a3a3a">H</text>
<text x="126.35" y="477.34" font-size="6.5" text-anchor="middle" fill="#3a3a3a">(m)</text>
<text x="31.6" y="455.89" font-size="6.5" text-anchor="middle" fill="#3a3a3a">BW8-2</text>
<text x="67.2" y="455.89" font-size="6.5" text-anchor="middle" fill="#3a3a3a">0.75</text>
<text x="94.9" y="455.89" font-size="6.5" text-anchor="middle" fill="#3a3a3a">1</text>
<text x="164.15" y="455.89" font-size="6.5" text-anchor="middle" fill="#3a3a3a">20</text>
<text x="204.25" y="455.89" font-size="6.5" text-anchor="middle" fill="#3a3a3a">19.5</text>
<text x="244.35" y="455.89" font-size="6.5" text-anchor="middle" fill="#3a3a3a">19</text>
<text x="284.45" y="455.89" font-size="6.5" text-anchor="middle" fill="#3a3a3a">18</text>
<text x="324.55" y="455.89" font-size="6.5" text-anchor="middle" fill="#3a3a3a">17</text>
<text x="364.7" y="455.89" font-size="6.5" text-anchor="middle" fill="#3a3a3a">15.5</text>
<text x="410.05" y="455.89" font-size="6.5" text-anchor="middle" fill="#3a3a3a">15.5~20</text>
<text x="31.6" y="468.04" font-size="6.5" text-anchor="middle" fill="#3a3a3a">BW8-3</text>
<text x="67.2" y="468.04" font-size="6.5" text-anchor="middle" fill="#3a3a3a">1.1</text>
<text x="94.9" y="468.04" font-size="6.5" text-anchor="middle" fill="#3a3a3a">1.5</text>
<text x="164.15" y="468.04" font-size="6.5" text-anchor="middle" fill="#3a3a3a">29.5</text>
<text x="204.25" y="468.04" font-size="6.5" text-anchor="middle" fill="#3a3a3a">29</text>
<text x="244.35" y="468.04" font-size="6.5" text-anchor="middle" fill="#3a3a3a">28</text>
<text x="284.45" y="468.04" font-size="6.5" text-anchor="middle" fill="#3a3a3a">27</text>
<text x="324.55" y="468.04" font-size="6.5" text-anchor="middle" fill="#3a3a3a">25</text>
<text x="364.7" y="468.04" font-size="6.5" text-anchor="middle" fill="#3a3a3a">23</text>
<text x="410.05" y="468.04" font-size="6.5" text-anchor="middle" fill="#3a3a3a">23~29.5</text>
<text x="31.6" y="480.14" font-size="6.5" text-anchor="middle" fill="#3a3a3a">BW8-4</text>
<text x="67.2" y="480.14" font-size="6.5" text-anchor="middle" fill="#3a3a3a">1.5</text>
<text x="94.9" y="480.14" font-size="6.5" text-anchor="middle" fill="#3a3a3a">2</text>
<text x="164.15" y="480.14" font-size="6.5" text-anchor="middle" fill="#3a3a3a">39</text>
<text x="204.25" y="480.14" font-size="6.5" text-anchor="middle" fill="#3a3a3a">38</text>
<text x="244.35" y="480.14" font-size="6.5" text-anchor="middle" fill="#3a3a3a">37</text>
<text x="284.45" y="480.14" font-size="6.5" text-anchor="middle" fill="#3a3a3a">35</text>
<text x="324.55" y="480.14" font-size="6.5" text-anchor="middle" fill="#3a3a3a">33</text>
<text x="364.7" y="480.14" font-size="6.5" text-anchor="middle" fill="#3a3a3a">30.5</text>
<text x="410.05" y="480.14" font-size="6.5" text-anchor="middle" fill="#3a3a3a">30.5~39</text>
<text x="31.6" y="492.09" font-size="6.5" text-anchor="middle" fill="#3a3a3a">BW8-5</text>
<text x="67.2" y="492.09" font-size="6.5" text-anchor="middle" fill="#3a3a3a">2.2</text>
<text x="94.9" y="492.09" font-size="6.5" text-anchor="middle" fill="#3a3a3a">3</text>
<text x="164.15" y="492.09" font-size="6.5" text-anchor="middle" fill="#3a3a3a">51</text>
<text x="204.25" y="492.09" font-size="6.5" text-anchor="middle" fill="#3a3a3a">49.5</text>
<text x="244.35" y="492.09" font-size="6.5" text-anchor="middle" fill="#3a3a3a">47.5</text>
<text x="284.45" y="492.09" font-size="6.5" text-anchor="middle" fill="#3a3a3a">45</text>
<text x="324.55" y="492.09" font-size="6.5" text-anchor="middle" fill="#3a3a3a">42.5</text>
<text x="364.7" y="492.09" font-size="6.5" text-anchor="middle" fill="#3a3a3a">39.5</text>
<text x="410.05" y="492.09" font-size="6.5" text-anchor="middle" fill="#3a3a3a">39.5~51</text>
<text x="475.3" y="451.69" font-size="6.5" text-anchor="middle" fill="#3a3a3a">Model</text>
<text x="524.5" y="446.29" font-size="6.5" text-anchor="middle" fill="#3a3a3a">Power</text>
<text x="513.9" y="456.94" font-size="6.5" text-anchor="middle" fill="#3a3a3a">kW</text>
<text x="536" y="456.94" font-size="6.5" text-anchor="middle" fill="#3a3a3a">HP</text>
<text x="564.1" y="451.69" font-size="6.5" text-anchor="middle" fill="#3a3a3a">Q(m<tspan font-size="4" dy="-2.4">3</tspan><tspan dy="2.4">/h)</tspan></text>
<text x="599.1" y="451.69" font-size="6.5" text-anchor="middle" fill="#3a3a3a">8</text>
<text x="634.1" y="451.69" font-size="6.5" text-anchor="middle" fill="#3a3a3a">10</text>
<text x="669.05" y="451.69" font-size="6.5" text-anchor="middle" fill="#3a3a3a">12</text>
<text x="704" y="451.69" font-size="6.5" text-anchor="middle" fill="#3a3a3a">14</text>
<text x="739" y="451.69" font-size="6.5" text-anchor="middle" fill="#3a3a3a">16</text>
<text x="773.95" y="451.69" font-size="6.5" text-anchor="middle" fill="#3a3a3a">18</text>
<text x="808.8" y="451.69" font-size="6.5" text-anchor="middle" fill="#3a3a3a">20</text>
<text x="849.85" y="448.29" font-size="6.5" text-anchor="middle" fill="#3a3a3a">Head Range</text>
<text x="849.85" y="455.29" font-size="6.5" text-anchor="middle" fill="#3a3a3a">(m)</text>
<text x="564.1" y="471.04" font-size="6.5" text-anchor="middle" fill="#3a3a3a">H</text>
<text x="564.1" y="477.84" font-size="6.5" text-anchor="middle" fill="#3a3a3a">(m)</text>
<text x="475.3" y="468.34" font-size="6.5" text-anchor="middle" fill="#3a3a3a">BW16-2</text>
<text x="513.9" y="468.34" font-size="6.5" text-anchor="middle" fill="#3a3a3a">2.2</text>
<text x="536" y="468.34" font-size="6.5" text-anchor="middle" fill="#3a3a3a">3</text>
<text x="599.1" y="468.34" font-size="6.5" text-anchor="middle" fill="#3a3a3a">26</text>
<text x="634.1" y="468.34" font-size="6.5" text-anchor="middle" fill="#3a3a3a">25</text>
<text x="669.05" y="468.34" font-size="6.5" text-anchor="middle" fill="#3a3a3a">24</text>
<text x="704" y="468.34" font-size="6.5" text-anchor="middle" fill="#3a3a3a">23</text>
<text x="739" y="468.34" font-size="6.5" text-anchor="middle" fill="#3a3a3a">21.7</text>
<text x="773.95" y="468.34" font-size="6.5" text-anchor="middle" fill="#3a3a3a">20</text>
<text x="808.8" y="468.34" font-size="6.5" text-anchor="middle" fill="#3a3a3a">18</text>
<text x="849.85" y="468.34" font-size="6.5" text-anchor="middle" fill="#3a3a3a">18~26</text>
<text x="475.3" y="480.44" font-size="6.5" text-anchor="middle" fill="#3a3a3a">BW16-3</text>
<text x="513.9" y="480.44" font-size="6.5" text-anchor="middle" fill="#3a3a3a">3</text>
<text x="536" y="480.44" font-size="6.5" text-anchor="middle" fill="#3a3a3a">4</text>
<text x="599.1" y="480.44" font-size="6.5" text-anchor="middle" fill="#3a3a3a">40</text>
<text x="634.1" y="480.44" font-size="6.5" text-anchor="middle" fill="#3a3a3a">39</text>
<text x="669.05" y="480.44" font-size="6.5" text-anchor="middle" fill="#3a3a3a">38</text>
<text x="704" y="480.44" font-size="6.5" text-anchor="middle" fill="#3a3a3a">36</text>
<text x="739" y="480.44" font-size="6.5" text-anchor="middle" fill="#3a3a3a">34</text>
<text x="773.95" y="480.44" font-size="6.5" text-anchor="middle" fill="#3a3a3a">31.5</text>
<text x="808.8" y="480.44" font-size="6.5" text-anchor="middle" fill="#3a3a3a">29</text>
<text x="849.85" y="480.44" font-size="6.5" text-anchor="middle" fill="#3a3a3a">29~40</text>
</g>
</svg>
</body></html>
